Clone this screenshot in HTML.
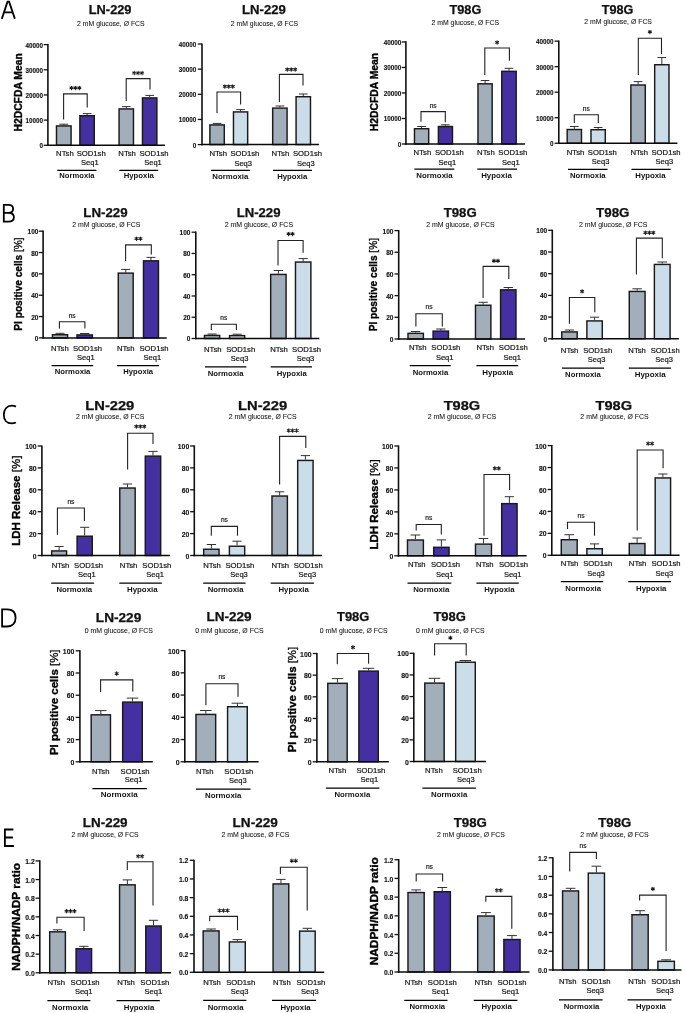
<!DOCTYPE html>
<html><head><meta charset="utf-8"><style>
html,body{margin:0;padding:0;background:#fff;width:685px;height:1013px;overflow:hidden}
svg{display:block;will-change:transform}
text{font-family:"Liberation Sans", sans-serif}
</style></head><body>
<svg width="685" height="1013" viewBox="0 0 685 1013" font-family='"Liberation Sans", sans-serif'><text x="110.15" y="13.8" font-size="12.2" font-weight="bold" text-anchor="middle" fill="#111" textLength="42.7" lengthAdjust="spacingAndGlyphs" stroke="#111" stroke-width="0.25">LN-229</text>
<text x="110.85" y="25.5" font-size="7.1" font-weight="normal" text-anchor="middle" fill="#111" textLength="67.6" lengthAdjust="spacingAndGlyphs" stroke="#111" stroke-width="0.06">2 mM glucose, Ø FCS</text>
<text transform="translate(21.9 92.4) rotate(-90)" x="0" y="0" font-size="10.8" font-weight="bold" text-anchor="middle" fill="#000" stroke="#000" stroke-width="0.35" textLength="78.3" lengthAdjust="spacingAndGlyphs">H2DCFDA Mean</text>
<line x1="43.7" y1="145.3" x2="47.9" y2="145.3" stroke="#111" stroke-width="1.3"/>
<text x="42.9" y="148.2" font-size="6.3" font-weight="bold" text-anchor="end" fill="#111" stroke="#111" stroke-width="0.12">0</text>
<line x1="43.7" y1="120.12" x2="47.9" y2="120.12" stroke="#111" stroke-width="1.3"/>
<text x="42.9" y="123.02" font-size="6.3" font-weight="bold" text-anchor="end" fill="#111" stroke="#111" stroke-width="0.12">10000</text>
<line x1="43.7" y1="94.95" x2="47.9" y2="94.95" stroke="#111" stroke-width="1.3"/>
<text x="42.9" y="97.85" font-size="6.3" font-weight="bold" text-anchor="end" fill="#111" stroke="#111" stroke-width="0.12">20000</text>
<line x1="43.7" y1="69.78" x2="47.9" y2="69.78" stroke="#111" stroke-width="1.3"/>
<text x="42.9" y="72.67" font-size="6.3" font-weight="bold" text-anchor="end" fill="#111" stroke="#111" stroke-width="0.12">30000</text>
<line x1="43.7" y1="44.6" x2="47.9" y2="44.6" stroke="#111" stroke-width="1.3"/>
<text x="42.9" y="47.5" font-size="6.3" font-weight="bold" text-anchor="end" fill="#111" stroke="#111" stroke-width="0.12">40000</text>
<line x1="63.78" y1="125.2" x2="63.78" y2="124.2" stroke="#333" stroke-width="1"/>
<line x1="59.36" y1="124.2" x2="68.19" y2="124.2" stroke="#333" stroke-width="1"/>
<rect x="56.48" y="125.92" width="14.6" height="19.38" fill="#a2afbb" stroke="#1a1a1a" stroke-width="1.45"/>
<line x1="87.08" y1="115" x2="87.08" y2="113.6" stroke="#333" stroke-width="1"/>
<line x1="82.72" y1="113.6" x2="91.43" y2="113.6" stroke="#333" stroke-width="1"/>
<rect x="79.88" y="115.72" width="14.4" height="29.58" fill="#4430a0" stroke="#1a1a1a" stroke-width="1.45"/>
<line x1="126.28" y1="108.2" x2="126.28" y2="106.6" stroke="#333" stroke-width="1"/>
<line x1="121.92" y1="106.6" x2="130.63" y2="106.6" stroke="#333" stroke-width="1"/>
<rect x="119.07" y="108.92" width="14.4" height="36.38" fill="#a2afbb" stroke="#1a1a1a" stroke-width="1.45"/>
<line x1="149.68" y1="97.2" x2="149.68" y2="95.4" stroke="#333" stroke-width="1"/>
<line x1="145.32" y1="95.4" x2="154.03" y2="95.4" stroke="#333" stroke-width="1"/>
<rect x="142.47" y="97.92" width="14.4" height="47.38" fill="#4430a0" stroke="#1a1a1a" stroke-width="1.45"/>
<line x1="47.9" y1="44" x2="47.9" y2="146" stroke="#111" stroke-width="1.6"/>
<line x1="47.15" y1="145.3" x2="165" y2="145.3" stroke="#0a0a0a" stroke-width="1.5"/>
<path d="M63.6 119.4V93.9H87.2V107.6" fill="none" stroke="#222" stroke-width="1.1"/>
<path d="M71.45 86.15L71.45 89.65M72.97 87.03L69.93 88.78M72.97 88.78L69.93 87.03" stroke="#1a1a1a" stroke-width="1.05" stroke-linecap="round"/>
<path d="M75.4 86.15L75.4 89.65M76.92 87.03L73.88 88.78M76.92 88.78L73.88 87.03" stroke="#1a1a1a" stroke-width="1.05" stroke-linecap="round"/>
<path d="M79.35 86.15L79.35 89.65M80.87 87.03L77.83 88.78M80.87 88.78L77.83 87.03" stroke="#1a1a1a" stroke-width="1.05" stroke-linecap="round"/>
<path d="M126.2 101V78.6H150V89.6" fill="none" stroke="#222" stroke-width="1.1"/>
<path d="M134.15 71.25L134.15 74.75M135.67 72.12L132.63 73.88M135.67 73.88L132.63 72.12" stroke="#1a1a1a" stroke-width="1.05" stroke-linecap="round"/>
<path d="M138.1 71.25L138.1 74.75M139.62 72.12L136.58 73.88M139.62 73.88L136.58 72.12" stroke="#1a1a1a" stroke-width="1.05" stroke-linecap="round"/>
<path d="M142.05 71.25L142.05 74.75M143.57 72.12L140.53 73.88M143.57 73.88L140.53 72.12" stroke="#1a1a1a" stroke-width="1.05" stroke-linecap="round"/>
<text x="56.1" y="155.9" font-size="7.3" font-weight="normal" text-anchor="start" fill="#111" textLength="17.6" lengthAdjust="spacingAndGlyphs" stroke="#111" stroke-width="0.18">NTsh</text>
<text x="76.7" y="155.9" font-size="7.3" font-weight="normal" text-anchor="start" fill="#111" textLength="29" lengthAdjust="spacingAndGlyphs" stroke="#111" stroke-width="0.18">SOD1sh</text>
<text x="81.1" y="165.3" font-size="7.3" font-weight="normal" text-anchor="start" fill="#111" textLength="17.6" lengthAdjust="spacingAndGlyphs" stroke="#111" stroke-width="0.18">Seq1</text>
<text x="118.3" y="155.9" font-size="7.3" font-weight="normal" text-anchor="start" fill="#111" textLength="17.6" lengthAdjust="spacingAndGlyphs" stroke="#111" stroke-width="0.18">NTsh</text>
<text x="139.5" y="155.9" font-size="7.3" font-weight="normal" text-anchor="start" fill="#111" textLength="29" lengthAdjust="spacingAndGlyphs" stroke="#111" stroke-width="0.18">SOD1sh</text>
<text x="144.2" y="165.3" font-size="7.3" font-weight="normal" text-anchor="start" fill="#111" textLength="17.6" lengthAdjust="spacingAndGlyphs" stroke="#111" stroke-width="0.18">Seq1</text>
<line x1="57.2" y1="170.4" x2="96.4" y2="170.4" stroke="#000" stroke-width="1.25"/>
<text x="76.9" y="178.3" font-size="7.2" font-weight="bold" text-anchor="middle" fill="#111" textLength="35.2" lengthAdjust="spacingAndGlyphs">Normoxia</text>
<line x1="119.4" y1="170.4" x2="158.2" y2="170.4" stroke="#000" stroke-width="1.25"/>
<text x="138.8" y="178.3" font-size="7.2" font-weight="bold" text-anchor="middle" fill="#111" textLength="30.2" lengthAdjust="spacingAndGlyphs">Hypoxia</text>
<text x="264" y="13.8" font-size="12.2" font-weight="bold" text-anchor="middle" fill="#111" textLength="43.8" lengthAdjust="spacingAndGlyphs" stroke="#111" stroke-width="0.25">LN-229</text>
<text x="264.5" y="25.5" font-size="7.1" font-weight="normal" text-anchor="middle" fill="#111" textLength="67.3" lengthAdjust="spacingAndGlyphs" stroke="#111" stroke-width="0.06">2 mM glucose, Ø FCS</text>
<line x1="197.8" y1="144.6" x2="202" y2="144.6" stroke="#111" stroke-width="1.3"/>
<text x="196.3" y="147.5" font-size="6.3" font-weight="bold" text-anchor="end" fill="#111" stroke="#111" stroke-width="0.12">0</text>
<line x1="197.8" y1="119.45" x2="202" y2="119.45" stroke="#111" stroke-width="1.3"/>
<text x="196.3" y="122.35" font-size="6.3" font-weight="bold" text-anchor="end" fill="#111" stroke="#111" stroke-width="0.12">10000</text>
<line x1="197.8" y1="94.3" x2="202" y2="94.3" stroke="#111" stroke-width="1.3"/>
<text x="196.3" y="97.2" font-size="6.3" font-weight="bold" text-anchor="end" fill="#111" stroke="#111" stroke-width="0.12">20000</text>
<line x1="197.8" y1="69.15" x2="202" y2="69.15" stroke="#111" stroke-width="1.3"/>
<text x="196.3" y="72.05" font-size="6.3" font-weight="bold" text-anchor="end" fill="#111" stroke="#111" stroke-width="0.12">30000</text>
<line x1="197.8" y1="44" x2="202" y2="44" stroke="#111" stroke-width="1.3"/>
<text x="196.3" y="46.9" font-size="6.3" font-weight="bold" text-anchor="end" fill="#111" stroke="#111" stroke-width="0.12">40000</text>
<line x1="217.07" y1="124.2" x2="217.07" y2="123.4" stroke="#333" stroke-width="1"/>
<line x1="212.72" y1="123.4" x2="221.43" y2="123.4" stroke="#333" stroke-width="1"/>
<rect x="209.88" y="124.92" width="14.4" height="19.67" fill="#a2afbb" stroke="#1a1a1a" stroke-width="1.45"/>
<line x1="240.57" y1="111.2" x2="240.57" y2="109.6" stroke="#333" stroke-width="1"/>
<line x1="236.27" y1="109.6" x2="244.88" y2="109.6" stroke="#333" stroke-width="1"/>
<rect x="233.47" y="111.92" width="14.2" height="32.67" fill="#cadde8" stroke="#1a1a1a" stroke-width="1.45"/>
<line x1="279.88" y1="107.4" x2="279.88" y2="106" stroke="#333" stroke-width="1"/>
<line x1="275.52" y1="106" x2="284.23" y2="106" stroke="#333" stroke-width="1"/>
<rect x="272.68" y="108.12" width="14.4" height="36.47" fill="#a2afbb" stroke="#1a1a1a" stroke-width="1.45"/>
<line x1="303.27" y1="96" x2="303.27" y2="94" stroke="#333" stroke-width="1"/>
<line x1="298.92" y1="94" x2="307.63" y2="94" stroke="#333" stroke-width="1"/>
<rect x="296.08" y="96.72" width="14.4" height="47.87" fill="#cadde8" stroke="#1a1a1a" stroke-width="1.45"/>
<line x1="202" y1="43.4" x2="202" y2="145.3" stroke="#111" stroke-width="1.6"/>
<line x1="201.25" y1="144.6" x2="319" y2="144.6" stroke="#0a0a0a" stroke-width="1.5"/>
<path d="M217 113V92H240.6V104.4" fill="none" stroke="#222" stroke-width="1.1"/>
<path d="M224.85 84.65L224.85 88.15M226.37 85.53L223.33 87.28M226.37 87.28L223.33 85.53" stroke="#1a1a1a" stroke-width="1.05" stroke-linecap="round"/>
<path d="M228.8 84.65L228.8 88.15M230.32 85.53L227.28 87.28M230.32 87.28L227.28 85.53" stroke="#1a1a1a" stroke-width="1.05" stroke-linecap="round"/>
<path d="M232.75 84.65L232.75 88.15M234.27 85.53L231.23 87.28M234.27 87.28L231.23 85.53" stroke="#1a1a1a" stroke-width="1.05" stroke-linecap="round"/>
<path d="M279.4 102V74.4H303V85.6" fill="none" stroke="#222" stroke-width="1.1"/>
<path d="M287.25 67.65L287.25 71.15M288.77 68.53L285.73 70.28M288.77 70.28L285.73 68.53" stroke="#1a1a1a" stroke-width="1.05" stroke-linecap="round"/>
<path d="M291.2 67.65L291.2 71.15M292.72 68.53L289.68 70.28M292.72 70.28L289.68 68.53" stroke="#1a1a1a" stroke-width="1.05" stroke-linecap="round"/>
<path d="M295.15 67.65L295.15 71.15M296.67 68.53L293.63 70.28M296.67 70.28L293.63 68.53" stroke="#1a1a1a" stroke-width="1.05" stroke-linecap="round"/>
<text x="209.4" y="156.2" font-size="7.3" font-weight="normal" text-anchor="start" fill="#111" textLength="17.6" lengthAdjust="spacingAndGlyphs" stroke="#111" stroke-width="0.18">NTsh</text>
<text x="230.4" y="156.2" font-size="7.3" font-weight="normal" text-anchor="start" fill="#111" textLength="29" lengthAdjust="spacingAndGlyphs" stroke="#111" stroke-width="0.18">SOD1sh</text>
<text x="234.4" y="165.6" font-size="7.3" font-weight="normal" text-anchor="start" fill="#111" textLength="17.6" lengthAdjust="spacingAndGlyphs" stroke="#111" stroke-width="0.18">Seq3</text>
<text x="271.6" y="156.2" font-size="7.3" font-weight="normal" text-anchor="start" fill="#111" textLength="17.6" lengthAdjust="spacingAndGlyphs" stroke="#111" stroke-width="0.18">NTsh</text>
<text x="293" y="156.2" font-size="7.3" font-weight="normal" text-anchor="start" fill="#111" textLength="29" lengthAdjust="spacingAndGlyphs" stroke="#111" stroke-width="0.18">SOD1sh</text>
<text x="297" y="165.6" font-size="7.3" font-weight="normal" text-anchor="start" fill="#111" textLength="17.6" lengthAdjust="spacingAndGlyphs" stroke="#111" stroke-width="0.18">Seq3</text>
<line x1="211" y1="170.4" x2="250" y2="170.4" stroke="#000" stroke-width="1.25"/>
<text x="230.3" y="178.6" font-size="7.2" font-weight="bold" text-anchor="middle" fill="#111" textLength="36" lengthAdjust="spacingAndGlyphs">Normoxia</text>
<line x1="273" y1="170.4" x2="312" y2="170.4" stroke="#000" stroke-width="1.25"/>
<text x="292.25" y="178.6" font-size="7.2" font-weight="bold" text-anchor="middle" fill="#111" textLength="30.1" lengthAdjust="spacingAndGlyphs">Hypoxia</text>
<text x="465.4" y="14" font-size="12.2" font-weight="bold" text-anchor="middle" fill="#111" textLength="31.8" lengthAdjust="spacingAndGlyphs" stroke="#111" stroke-width="0.25">T98G</text>
<text x="465.3" y="24.9" font-size="7.1" font-weight="normal" text-anchor="middle" fill="#111" textLength="67.7" lengthAdjust="spacingAndGlyphs" stroke="#111" stroke-width="0.06">2 mM glucose, Ø FCS</text>
<text transform="translate(378.2 92.1) rotate(-90)" x="0" y="0" font-size="10.8" font-weight="bold" text-anchor="middle" fill="#000" stroke="#000" stroke-width="0.35" textLength="78.3" lengthAdjust="spacingAndGlyphs">H2DCFDA Mean</text>
<line x1="401.7" y1="144" x2="405.9" y2="144" stroke="#111" stroke-width="1.3"/>
<text x="401.3" y="146.9" font-size="6.3" font-weight="bold" text-anchor="end" fill="#111" stroke="#111" stroke-width="0.12">0</text>
<line x1="401.7" y1="118.49" x2="405.9" y2="118.49" stroke="#111" stroke-width="1.3"/>
<text x="401.3" y="121.39" font-size="6.3" font-weight="bold" text-anchor="end" fill="#111" stroke="#111" stroke-width="0.12">10000</text>
<line x1="401.7" y1="92.97" x2="405.9" y2="92.97" stroke="#111" stroke-width="1.3"/>
<text x="401.3" y="95.87" font-size="6.3" font-weight="bold" text-anchor="end" fill="#111" stroke="#111" stroke-width="0.12">20000</text>
<line x1="401.7" y1="67.46" x2="405.9" y2="67.46" stroke="#111" stroke-width="1.3"/>
<text x="401.3" y="70.36" font-size="6.3" font-weight="bold" text-anchor="end" fill="#111" stroke="#111" stroke-width="0.12">30000</text>
<line x1="401.7" y1="41.95" x2="405.9" y2="41.95" stroke="#111" stroke-width="1.3"/>
<text x="401.3" y="44.85" font-size="6.3" font-weight="bold" text-anchor="end" fill="#111" stroke="#111" stroke-width="0.12">40000</text>
<line x1="421.57" y1="128" x2="421.57" y2="126.5" stroke="#333" stroke-width="1"/>
<line x1="417.27" y1="126.5" x2="425.88" y2="126.5" stroke="#333" stroke-width="1"/>
<rect x="414.48" y="128.72" width="14.2" height="15.28" fill="#a2afbb" stroke="#1a1a1a" stroke-width="1.45"/>
<line x1="445.42" y1="125.8" x2="445.42" y2="124.8" stroke="#333" stroke-width="1"/>
<line x1="441.15" y1="124.8" x2="449.7" y2="124.8" stroke="#333" stroke-width="1"/>
<rect x="438.38" y="126.52" width="14.1" height="17.48" fill="#4430a0" stroke="#1a1a1a" stroke-width="1.45"/>
<line x1="485.07" y1="83.1" x2="485.07" y2="80.5" stroke="#333" stroke-width="1"/>
<line x1="480.77" y1="80.5" x2="489.38" y2="80.5" stroke="#333" stroke-width="1"/>
<rect x="477.98" y="83.82" width="14.2" height="60.18" fill="#a2afbb" stroke="#1a1a1a" stroke-width="1.45"/>
<line x1="508.98" y1="70.6" x2="508.98" y2="68.3" stroke="#333" stroke-width="1"/>
<line x1="504.62" y1="68.3" x2="513.33" y2="68.3" stroke="#333" stroke-width="1"/>
<rect x="501.78" y="71.32" width="14.4" height="72.68" fill="#4430a0" stroke="#1a1a1a" stroke-width="1.45"/>
<line x1="405.9" y1="41.35" x2="405.9" y2="144.7" stroke="#111" stroke-width="1.6"/>
<line x1="405.15" y1="144" x2="525" y2="144" stroke="#0a0a0a" stroke-width="1.5"/>
<path d="M421 121.8V111.6H445.3V122.3" fill="none" stroke="#222" stroke-width="1.1"/>
<text x="433.15" y="107.6" font-size="6.6" font-weight="normal" text-anchor="middle" fill="#222" stroke="#111" stroke-width="0.18">ns</text>
<path d="M484.8 75V48H509.4V60.8" fill="none" stroke="#222" stroke-width="1.1"/>
<path d="M497.1 40.65L497.1 44.15M498.62 41.52L495.58 43.27M498.62 43.27L495.58 41.52" stroke="#1a1a1a" stroke-width="1.05" stroke-linecap="round"/>
<text x="413.6" y="154.9" font-size="7.3" font-weight="normal" text-anchor="start" fill="#111" textLength="17.6" lengthAdjust="spacingAndGlyphs" stroke="#111" stroke-width="0.18">NTsh</text>
<text x="434.9" y="154.9" font-size="7.3" font-weight="normal" text-anchor="start" fill="#111" textLength="29" lengthAdjust="spacingAndGlyphs" stroke="#111" stroke-width="0.18">SOD1sh</text>
<text x="438.6" y="164.9" font-size="7.3" font-weight="normal" text-anchor="start" fill="#111" textLength="17.6" lengthAdjust="spacingAndGlyphs" stroke="#111" stroke-width="0.18">Seq1</text>
<text x="477.1" y="154.9" font-size="7.3" font-weight="normal" text-anchor="start" fill="#111" textLength="17.6" lengthAdjust="spacingAndGlyphs" stroke="#111" stroke-width="0.18">NTsh</text>
<text x="498.3" y="154.9" font-size="7.3" font-weight="normal" text-anchor="start" fill="#111" textLength="29" lengthAdjust="spacingAndGlyphs" stroke="#111" stroke-width="0.18">SOD1sh</text>
<text x="502" y="164.9" font-size="7.3" font-weight="normal" text-anchor="start" fill="#111" textLength="17.6" lengthAdjust="spacingAndGlyphs" stroke="#111" stroke-width="0.18">Seq1</text>
<line x1="414.4" y1="169" x2="454.3" y2="169" stroke="#000" stroke-width="1.25"/>
<text x="434.45" y="178" font-size="7.2" font-weight="bold" text-anchor="middle" fill="#111" textLength="36.3" lengthAdjust="spacingAndGlyphs">Normoxia</text>
<line x1="477.3" y1="169" x2="517" y2="169" stroke="#000" stroke-width="1.25"/>
<text x="496.5" y="178" font-size="7.2" font-weight="bold" text-anchor="middle" fill="#111" textLength="30.6" lengthAdjust="spacingAndGlyphs">Hypoxia</text>
<text x="617.5" y="14" font-size="12.2" font-weight="bold" text-anchor="middle" fill="#111" textLength="31.6" lengthAdjust="spacingAndGlyphs" stroke="#111" stroke-width="0.25">T98G</text>
<text x="618.15" y="24.3" font-size="7.1" font-weight="normal" text-anchor="middle" fill="#111" textLength="67.6" lengthAdjust="spacingAndGlyphs" stroke="#111" stroke-width="0.06">2 mM glucose, Ø FCS</text>
<line x1="554.6" y1="143.25" x2="558.8" y2="143.25" stroke="#111" stroke-width="1.3"/>
<text x="553.4" y="146.15" font-size="6.3" font-weight="bold" text-anchor="end" fill="#111" stroke="#111" stroke-width="0.12">0</text>
<line x1="554.6" y1="117.72" x2="558.8" y2="117.72" stroke="#111" stroke-width="1.3"/>
<text x="553.4" y="120.62" font-size="6.3" font-weight="bold" text-anchor="end" fill="#111" stroke="#111" stroke-width="0.12">10000</text>
<line x1="554.6" y1="92.2" x2="558.8" y2="92.2" stroke="#111" stroke-width="1.3"/>
<text x="553.4" y="95.1" font-size="6.3" font-weight="bold" text-anchor="end" fill="#111" stroke="#111" stroke-width="0.12">20000</text>
<line x1="554.6" y1="66.68" x2="558.8" y2="66.68" stroke="#111" stroke-width="1.3"/>
<text x="553.4" y="69.57" font-size="6.3" font-weight="bold" text-anchor="end" fill="#111" stroke="#111" stroke-width="0.12">30000</text>
<line x1="554.6" y1="41.15" x2="558.8" y2="41.15" stroke="#111" stroke-width="1.3"/>
<text x="553.4" y="44.05" font-size="6.3" font-weight="bold" text-anchor="end" fill="#111" stroke="#111" stroke-width="0.12">40000</text>
<line x1="574.33" y1="128.8" x2="574.33" y2="126.5" stroke="#333" stroke-width="1"/>
<line x1="569.99" y1="126.5" x2="578.66" y2="126.5" stroke="#333" stroke-width="1"/>
<rect x="567.18" y="129.53" width="14.3" height="13.72" fill="#a2afbb" stroke="#1a1a1a" stroke-width="1.45"/>
<line x1="598.12" y1="129" x2="598.12" y2="127.5" stroke="#333" stroke-width="1"/>
<line x1="593.79" y1="127.5" x2="602.46" y2="127.5" stroke="#333" stroke-width="1"/>
<rect x="590.98" y="129.72" width="14.3" height="13.53" fill="#cadde8" stroke="#1a1a1a" stroke-width="1.45"/>
<line x1="638.08" y1="84.3" x2="638.08" y2="81.6" stroke="#333" stroke-width="1"/>
<line x1="633.72" y1="81.6" x2="642.43" y2="81.6" stroke="#333" stroke-width="1"/>
<rect x="630.88" y="85.02" width="14.4" height="58.23" fill="#a2afbb" stroke="#1a1a1a" stroke-width="1.45"/>
<line x1="661.83" y1="64" x2="661.83" y2="57.5" stroke="#333" stroke-width="1"/>
<line x1="657.49" y1="57.5" x2="666.16" y2="57.5" stroke="#333" stroke-width="1"/>
<rect x="654.68" y="64.72" width="14.3" height="78.53" fill="#cadde8" stroke="#1a1a1a" stroke-width="1.45"/>
<line x1="558.8" y1="40.55" x2="558.8" y2="143.95" stroke="#111" stroke-width="1.6"/>
<line x1="558.05" y1="143.25" x2="677.4" y2="143.25" stroke="#0a0a0a" stroke-width="1.5"/>
<path d="M574.3 122.9V114.8H598.3V122.9" fill="none" stroke="#222" stroke-width="1.1"/>
<text x="586.3" y="110.7" font-size="6.6" font-weight="normal" text-anchor="middle" fill="#222" stroke="#111" stroke-width="0.18">ns</text>
<path d="M638.3 75V38.3H661.5V54" fill="none" stroke="#222" stroke-width="1.1"/>
<path d="M649.9 30.15L649.9 33.65M651.42 31.02L648.38 32.77M651.42 32.77L648.38 31.02" stroke="#1a1a1a" stroke-width="1.05" stroke-linecap="round"/>
<text x="566.7" y="155.2" font-size="7.3" font-weight="normal" text-anchor="start" fill="#111" textLength="17.6" lengthAdjust="spacingAndGlyphs" stroke="#111" stroke-width="0.18">NTsh</text>
<text x="587.8" y="155.2" font-size="7.3" font-weight="normal" text-anchor="start" fill="#111" textLength="29" lengthAdjust="spacingAndGlyphs" stroke="#111" stroke-width="0.18">SOD1sh</text>
<text x="591.8" y="164.1" font-size="7.3" font-weight="normal" text-anchor="start" fill="#111" textLength="17.6" lengthAdjust="spacingAndGlyphs" stroke="#111" stroke-width="0.18">Seq3</text>
<text x="630.4" y="155.2" font-size="7.3" font-weight="normal" text-anchor="start" fill="#111" textLength="17.6" lengthAdjust="spacingAndGlyphs" stroke="#111" stroke-width="0.18">NTsh</text>
<text x="651.5" y="155.2" font-size="7.3" font-weight="normal" text-anchor="start" fill="#111" textLength="29" lengthAdjust="spacingAndGlyphs" stroke="#111" stroke-width="0.18">SOD1sh</text>
<text x="655.5" y="164.1" font-size="7.3" font-weight="normal" text-anchor="start" fill="#111" textLength="17.6" lengthAdjust="spacingAndGlyphs" stroke="#111" stroke-width="0.18">Seq3</text>
<line x1="568" y1="169.3" x2="607.5" y2="169.3" stroke="#000" stroke-width="1.25"/>
<text x="587.75" y="177.5" font-size="7.2" font-weight="bold" text-anchor="middle" fill="#111" textLength="35.7" lengthAdjust="spacingAndGlyphs">Normoxia</text>
<line x1="631.5" y1="169.3" x2="670.7" y2="169.3" stroke="#000" stroke-width="1.25"/>
<text x="650.45" y="177.5" font-size="7.2" font-weight="bold" text-anchor="middle" fill="#111" textLength="30.3" lengthAdjust="spacingAndGlyphs">Hypoxia</text>
<text x="105.45" y="216.7" font-size="12.2" font-weight="bold" text-anchor="middle" fill="#111" textLength="44.3" lengthAdjust="spacingAndGlyphs" stroke="#111" stroke-width="0.25">LN-229</text>
<text x="106.35" y="227.2" font-size="7.1" font-weight="normal" text-anchor="middle" fill="#111" textLength="68.2" lengthAdjust="spacingAndGlyphs" stroke="#111" stroke-width="0.06">2 mM glucose, Ø FCS</text>
<text transform="translate(22.1 284) rotate(-90)" x="0" y="0" font-size="10.8" font-weight="bold" text-anchor="middle" fill="#000" stroke="#000" stroke-width="0.35" textLength="93.3" lengthAdjust="spacingAndGlyphs">PI positive cells<tspan font-weight="normal" stroke-width="0.3"> [%]</tspan></text>
<line x1="38.9" y1="337.9" x2="43.1" y2="337.9" stroke="#111" stroke-width="1.3"/>
<text x="38.4" y="340.89" font-size="6.5" font-weight="bold" text-anchor="end" fill="#111" stroke="#111" stroke-width="0.12">0</text>
<line x1="38.9" y1="316.56" x2="43.1" y2="316.56" stroke="#111" stroke-width="1.3"/>
<text x="38.4" y="319.55" font-size="6.5" font-weight="bold" text-anchor="end" fill="#111" stroke="#111" stroke-width="0.12">20</text>
<line x1="38.9" y1="295.22" x2="43.1" y2="295.22" stroke="#111" stroke-width="1.3"/>
<text x="38.4" y="298.21" font-size="6.5" font-weight="bold" text-anchor="end" fill="#111" stroke="#111" stroke-width="0.12">40</text>
<line x1="38.9" y1="273.88" x2="43.1" y2="273.88" stroke="#111" stroke-width="1.3"/>
<text x="38.4" y="276.87" font-size="6.5" font-weight="bold" text-anchor="end" fill="#111" stroke="#111" stroke-width="0.12">60</text>
<line x1="38.9" y1="252.54" x2="43.1" y2="252.54" stroke="#111" stroke-width="1.3"/>
<text x="38.4" y="255.53" font-size="6.5" font-weight="bold" text-anchor="end" fill="#111" stroke="#111" stroke-width="0.12">80</text>
<line x1="38.9" y1="231.2" x2="43.1" y2="231.2" stroke="#111" stroke-width="1.3"/>
<text x="38.4" y="234.19" font-size="6.5" font-weight="bold" text-anchor="end" fill="#111" stroke="#111" stroke-width="0.12">100</text>
<line x1="60.03" y1="334" x2="60.03" y2="333.3" stroke="#333" stroke-width="1"/>
<line x1="55.47" y1="333.3" x2="64.58" y2="333.3" stroke="#333" stroke-width="1"/>
<rect x="52.48" y="334.73" width="15.1" height="3.17" fill="#a2afbb" stroke="#1a1a1a" stroke-width="1.45"/>
<line x1="84.68" y1="334.2" x2="84.68" y2="333.5" stroke="#333" stroke-width="1"/>
<line x1="80.04" y1="333.5" x2="89.31" y2="333.5" stroke="#333" stroke-width="1"/>
<rect x="76.97" y="334.93" width="15.4" height="2.97" fill="#4430a0" stroke="#1a1a1a" stroke-width="1.45"/>
<line x1="125.72" y1="272.4" x2="125.72" y2="269.4" stroke="#333" stroke-width="1"/>
<line x1="121.23" y1="269.4" x2="130.22" y2="269.4" stroke="#333" stroke-width="1"/>
<rect x="118.27" y="273.12" width="14.9" height="64.78" fill="#a2afbb" stroke="#1a1a1a" stroke-width="1.45"/>
<line x1="150.98" y1="260.1" x2="150.98" y2="257.4" stroke="#333" stroke-width="1"/>
<line x1="146.45" y1="257.4" x2="155.5" y2="257.4" stroke="#333" stroke-width="1"/>
<rect x="143.47" y="260.83" width="15" height="77.07" fill="#4430a0" stroke="#1a1a1a" stroke-width="1.45"/>
<line x1="43.1" y1="230.6" x2="43.1" y2="338.6" stroke="#111" stroke-width="1.6"/>
<line x1="42.35" y1="337.9" x2="166.7" y2="337.9" stroke="#0a0a0a" stroke-width="1.5"/>
<path d="M59.4 328.5V321.8H84.9V328.5" fill="none" stroke="#222" stroke-width="1.1"/>
<text x="72.15" y="317.9" font-size="6.6" font-weight="normal" text-anchor="middle" fill="#222" stroke="#111" stroke-width="0.18">ns</text>
<path d="M125.6 261V244.9H151.3V254.4" fill="none" stroke="#222" stroke-width="1.1"/>
<path d="M136.47 236.95L136.47 240.45M137.99 237.82L134.96 239.57M137.99 239.57L134.96 237.82" stroke="#1a1a1a" stroke-width="1.05" stroke-linecap="round"/>
<path d="M140.42 236.95L140.42 240.45M141.94 237.82L138.91 239.57M141.94 239.57L138.91 237.82" stroke="#1a1a1a" stroke-width="1.05" stroke-linecap="round"/>
<text x="51.1" y="350.6" font-size="7.3" font-weight="normal" text-anchor="start" fill="#111" textLength="17.6" lengthAdjust="spacingAndGlyphs" stroke="#111" stroke-width="0.18">NTsh</text>
<text x="73" y="350.6" font-size="7.3" font-weight="normal" text-anchor="start" fill="#111" textLength="29" lengthAdjust="spacingAndGlyphs" stroke="#111" stroke-width="0.18">SOD1sh</text>
<text x="77" y="359.8" font-size="7.3" font-weight="normal" text-anchor="start" fill="#111" textLength="17.6" lengthAdjust="spacingAndGlyphs" stroke="#111" stroke-width="0.18">Seq1</text>
<text x="116.9" y="350.6" font-size="7.3" font-weight="normal" text-anchor="start" fill="#111" textLength="17.6" lengthAdjust="spacingAndGlyphs" stroke="#111" stroke-width="0.18">NTsh</text>
<text x="139.5" y="350.6" font-size="7.3" font-weight="normal" text-anchor="start" fill="#111" textLength="29" lengthAdjust="spacingAndGlyphs" stroke="#111" stroke-width="0.18">SOD1sh</text>
<text x="143.5" y="359.8" font-size="7.3" font-weight="normal" text-anchor="start" fill="#111" textLength="17.6" lengthAdjust="spacingAndGlyphs" stroke="#111" stroke-width="0.18">Seq1</text>
<line x1="51.6" y1="365.5" x2="93.2" y2="365.5" stroke="#000" stroke-width="1.25"/>
<text x="72.6" y="373.8" font-size="7.2" font-weight="bold" text-anchor="middle" fill="#111" textLength="35.6" lengthAdjust="spacingAndGlyphs">Normoxia</text>
<line x1="117" y1="365.5" x2="159" y2="365.5" stroke="#000" stroke-width="1.25"/>
<text x="138.2" y="373.8" font-size="7.2" font-weight="bold" text-anchor="middle" fill="#111" textLength="29.8" lengthAdjust="spacingAndGlyphs">Hypoxia</text>
<text x="258.6" y="216.7" font-size="12.2" font-weight="bold" text-anchor="middle" fill="#111" textLength="43.8" lengthAdjust="spacingAndGlyphs" stroke="#111" stroke-width="0.25">LN-229</text>
<text x="258.85" y="227.2" font-size="7.1" font-weight="normal" text-anchor="middle" fill="#111" textLength="68.4" lengthAdjust="spacingAndGlyphs" stroke="#111" stroke-width="0.06">2 mM glucose, Ø FCS</text>
<line x1="191.6" y1="338.5" x2="195.8" y2="338.5" stroke="#111" stroke-width="1.3"/>
<text x="190.4" y="341.49" font-size="6.5" font-weight="bold" text-anchor="end" fill="#111" stroke="#111" stroke-width="0.12">0</text>
<line x1="191.6" y1="317.24" x2="195.8" y2="317.24" stroke="#111" stroke-width="1.3"/>
<text x="190.4" y="320.23" font-size="6.5" font-weight="bold" text-anchor="end" fill="#111" stroke="#111" stroke-width="0.12">20</text>
<line x1="191.6" y1="295.98" x2="195.8" y2="295.98" stroke="#111" stroke-width="1.3"/>
<text x="190.4" y="298.97" font-size="6.5" font-weight="bold" text-anchor="end" fill="#111" stroke="#111" stroke-width="0.12">40</text>
<line x1="191.6" y1="274.72" x2="195.8" y2="274.72" stroke="#111" stroke-width="1.3"/>
<text x="190.4" y="277.71" font-size="6.5" font-weight="bold" text-anchor="end" fill="#111" stroke="#111" stroke-width="0.12">60</text>
<line x1="191.6" y1="253.46" x2="195.8" y2="253.46" stroke="#111" stroke-width="1.3"/>
<text x="190.4" y="256.45" font-size="6.5" font-weight="bold" text-anchor="end" fill="#111" stroke="#111" stroke-width="0.12">80</text>
<line x1="191.6" y1="232.2" x2="195.8" y2="232.2" stroke="#111" stroke-width="1.3"/>
<text x="190.4" y="235.19" font-size="6.5" font-weight="bold" text-anchor="end" fill="#111" stroke="#111" stroke-width="0.12">100</text>
<line x1="212.07" y1="334.7" x2="212.07" y2="334" stroke="#333" stroke-width="1"/>
<line x1="207.5" y1="334" x2="216.65" y2="334" stroke="#333" stroke-width="1"/>
<rect x="204.47" y="335.43" width="15.2" height="3.08" fill="#a2afbb" stroke="#1a1a1a" stroke-width="1.45"/>
<line x1="237.12" y1="334.9" x2="237.12" y2="334.2" stroke="#333" stroke-width="1"/>
<line x1="232.57" y1="334.2" x2="241.68" y2="334.2" stroke="#333" stroke-width="1"/>
<rect x="229.57" y="335.62" width="15.1" height="2.88" fill="#cadde8" stroke="#1a1a1a" stroke-width="1.45"/>
<line x1="278.38" y1="273.7" x2="278.38" y2="270.5" stroke="#333" stroke-width="1"/>
<line x1="273.74" y1="270.5" x2="283.01" y2="270.5" stroke="#333" stroke-width="1"/>
<rect x="270.68" y="274.43" width="15.4" height="64.08" fill="#a2afbb" stroke="#1a1a1a" stroke-width="1.45"/>
<line x1="303.17" y1="261.3" x2="303.17" y2="258.6" stroke="#333" stroke-width="1"/>
<line x1="298.54" y1="258.6" x2="307.81" y2="258.6" stroke="#333" stroke-width="1"/>
<rect x="295.48" y="262.03" width="15.4" height="76.47" fill="#cadde8" stroke="#1a1a1a" stroke-width="1.45"/>
<line x1="195.8" y1="231.6" x2="195.8" y2="339.2" stroke="#111" stroke-width="1.6"/>
<line x1="195.05" y1="338.5" x2="319.3" y2="338.5" stroke="#0a0a0a" stroke-width="1.5"/>
<path d="M211.3 329.9V324.2H236.4V329.9" fill="none" stroke="#222" stroke-width="1.1"/>
<text x="223.85" y="319.6" font-size="6.6" font-weight="normal" text-anchor="middle" fill="#222" stroke="#111" stroke-width="0.18">ns</text>
<path d="M278 265.5V240.5H303.1V252.7" fill="none" stroke="#222" stroke-width="1.1"/>
<path d="M288.57 232.15L288.57 235.65M290.09 233.03L287.06 234.78M290.09 234.78L287.06 233.03" stroke="#1a1a1a" stroke-width="1.05" stroke-linecap="round"/>
<path d="M292.53 232.15L292.53 235.65M294.04 233.03L291.01 234.78M294.04 234.78L291.01 233.03" stroke="#1a1a1a" stroke-width="1.05" stroke-linecap="round"/>
<text x="204" y="351.9" font-size="7.3" font-weight="normal" text-anchor="start" fill="#111" textLength="17.6" lengthAdjust="spacingAndGlyphs" stroke="#111" stroke-width="0.18">NTsh</text>
<text x="226.2" y="351.9" font-size="7.3" font-weight="normal" text-anchor="start" fill="#111" textLength="29" lengthAdjust="spacingAndGlyphs" stroke="#111" stroke-width="0.18">SOD1sh</text>
<text x="230.8" y="361.4" font-size="7.3" font-weight="normal" text-anchor="start" fill="#111" textLength="17.6" lengthAdjust="spacingAndGlyphs" stroke="#111" stroke-width="0.18">Seq3</text>
<text x="270.2" y="351.9" font-size="7.3" font-weight="normal" text-anchor="start" fill="#111" textLength="17.6" lengthAdjust="spacingAndGlyphs" stroke="#111" stroke-width="0.18">NTsh</text>
<text x="292.1" y="351.9" font-size="7.3" font-weight="normal" text-anchor="start" fill="#111" textLength="29" lengthAdjust="spacingAndGlyphs" stroke="#111" stroke-width="0.18">SOD1sh</text>
<text x="296.7" y="361.4" font-size="7.3" font-weight="normal" text-anchor="start" fill="#111" textLength="17.6" lengthAdjust="spacingAndGlyphs" stroke="#111" stroke-width="0.18">Seq3</text>
<line x1="205" y1="366.9" x2="246.4" y2="366.9" stroke="#000" stroke-width="1.25"/>
<text x="225.6" y="375.6" font-size="7.2" font-weight="bold" text-anchor="middle" fill="#111" textLength="35.8" lengthAdjust="spacingAndGlyphs">Normoxia</text>
<line x1="270.7" y1="366.9" x2="312" y2="366.9" stroke="#000" stroke-width="1.25"/>
<text x="291.7" y="375.6" font-size="7.2" font-weight="bold" text-anchor="middle" fill="#111" textLength="30" lengthAdjust="spacingAndGlyphs">Hypoxia</text>
<text x="460.2" y="216.7" font-size="12.2" font-weight="bold" text-anchor="middle" fill="#111" textLength="33" lengthAdjust="spacingAndGlyphs" stroke="#111" stroke-width="0.25">T98G</text>
<text x="460.45" y="227.2" font-size="7.1" font-weight="normal" text-anchor="middle" fill="#111" textLength="68.4" lengthAdjust="spacingAndGlyphs" stroke="#111" stroke-width="0.06">2 mM glucose, Ø FCS</text>
<text transform="translate(377.1 284.7) rotate(-90)" x="0" y="0" font-size="10.8" font-weight="bold" text-anchor="middle" fill="#000" stroke="#000" stroke-width="0.35" textLength="93.3" lengthAdjust="spacingAndGlyphs">PI positive cells<tspan font-weight="normal" stroke-width="0.3"> [%]</tspan></text>
<line x1="394.5" y1="339" x2="398.7" y2="339" stroke="#111" stroke-width="1.3"/>
<text x="393.4" y="341.99" font-size="6.5" font-weight="bold" text-anchor="end" fill="#111" stroke="#111" stroke-width="0.12">0</text>
<line x1="394.5" y1="317.32" x2="398.7" y2="317.32" stroke="#111" stroke-width="1.3"/>
<text x="393.4" y="320.31" font-size="6.5" font-weight="bold" text-anchor="end" fill="#111" stroke="#111" stroke-width="0.12">20</text>
<line x1="394.5" y1="295.64" x2="398.7" y2="295.64" stroke="#111" stroke-width="1.3"/>
<text x="393.4" y="298.63" font-size="6.5" font-weight="bold" text-anchor="end" fill="#111" stroke="#111" stroke-width="0.12">40</text>
<line x1="394.5" y1="273.96" x2="398.7" y2="273.96" stroke="#111" stroke-width="1.3"/>
<text x="393.4" y="276.95" font-size="6.5" font-weight="bold" text-anchor="end" fill="#111" stroke="#111" stroke-width="0.12">60</text>
<line x1="394.5" y1="252.28" x2="398.7" y2="252.28" stroke="#111" stroke-width="1.3"/>
<text x="393.4" y="255.27" font-size="6.5" font-weight="bold" text-anchor="end" fill="#111" stroke="#111" stroke-width="0.12">80</text>
<line x1="394.5" y1="230.6" x2="398.7" y2="230.6" stroke="#111" stroke-width="1.3"/>
<text x="393.4" y="233.59" font-size="6.5" font-weight="bold" text-anchor="end" fill="#111" stroke="#111" stroke-width="0.12">100</text>
<line x1="415.67" y1="332.6" x2="415.67" y2="331.5" stroke="#333" stroke-width="1"/>
<line x1="411.04" y1="331.5" x2="420.31" y2="331.5" stroke="#333" stroke-width="1"/>
<rect x="407.98" y="333.33" width="15.4" height="5.67" fill="#a2afbb" stroke="#1a1a1a" stroke-width="1.45"/>
<line x1="440.77" y1="330.4" x2="440.77" y2="329" stroke="#333" stroke-width="1"/>
<line x1="436.14" y1="329" x2="445.41" y2="329" stroke="#333" stroke-width="1"/>
<rect x="433.08" y="331.12" width="15.4" height="7.88" fill="#4430a0" stroke="#1a1a1a" stroke-width="1.45"/>
<line x1="483.17" y1="304.5" x2="483.17" y2="302.3" stroke="#333" stroke-width="1"/>
<line x1="478.54" y1="302.3" x2="487.81" y2="302.3" stroke="#333" stroke-width="1"/>
<rect x="475.48" y="305.23" width="15.4" height="33.77" fill="#a2afbb" stroke="#1a1a1a" stroke-width="1.45"/>
<line x1="508.27" y1="289.1" x2="508.27" y2="287.5" stroke="#333" stroke-width="1"/>
<line x1="503.64" y1="287.5" x2="512.91" y2="287.5" stroke="#333" stroke-width="1"/>
<rect x="500.58" y="289.83" width="15.4" height="49.17" fill="#4430a0" stroke="#1a1a1a" stroke-width="1.45"/>
<line x1="398.7" y1="230" x2="398.7" y2="339.7" stroke="#111" stroke-width="1.6"/>
<line x1="397.95" y1="339" x2="525.1" y2="339" stroke="#0a0a0a" stroke-width="1.5"/>
<path d="M415.9 326.4V313.7H442.3V326.4" fill="none" stroke="#222" stroke-width="1.1"/>
<text x="429.1" y="309.1" font-size="6.6" font-weight="normal" text-anchor="middle" fill="#222" stroke="#111" stroke-width="0.18">ns</text>
<path d="M483.1 298V266.4H508.8V279.1" fill="none" stroke="#222" stroke-width="1.1"/>
<path d="M493.98 259.05L493.98 262.55M495.49 259.93L492.46 261.68M495.49 261.68L492.46 259.93" stroke="#1a1a1a" stroke-width="1.05" stroke-linecap="round"/>
<path d="M497.93 259.05L497.93 262.55M499.44 259.93L496.41 261.68M499.44 261.68L496.41 259.93" stroke="#1a1a1a" stroke-width="1.05" stroke-linecap="round"/>
<text x="408.9" y="350.3" font-size="7.3" font-weight="normal" text-anchor="start" fill="#111" textLength="17.6" lengthAdjust="spacingAndGlyphs" stroke="#111" stroke-width="0.18">NTsh</text>
<text x="431.3" y="350.3" font-size="7.3" font-weight="normal" text-anchor="start" fill="#111" textLength="29" lengthAdjust="spacingAndGlyphs" stroke="#111" stroke-width="0.18">SOD1sh</text>
<text x="435.9" y="360" font-size="7.3" font-weight="normal" text-anchor="start" fill="#111" textLength="17.6" lengthAdjust="spacingAndGlyphs" stroke="#111" stroke-width="0.18">Seq1</text>
<text x="476.4" y="350.3" font-size="7.3" font-weight="normal" text-anchor="start" fill="#111" textLength="17.6" lengthAdjust="spacingAndGlyphs" stroke="#111" stroke-width="0.18">NTsh</text>
<text x="498.8" y="350.3" font-size="7.3" font-weight="normal" text-anchor="start" fill="#111" textLength="29" lengthAdjust="spacingAndGlyphs" stroke="#111" stroke-width="0.18">SOD1sh</text>
<text x="503.4" y="360" font-size="7.3" font-weight="normal" text-anchor="start" fill="#111" textLength="17.6" lengthAdjust="spacingAndGlyphs" stroke="#111" stroke-width="0.18">Seq1</text>
<line x1="409.7" y1="365.5" x2="450.7" y2="365.5" stroke="#000" stroke-width="1.25"/>
<text x="430.5" y="374.9" font-size="7.2" font-weight="bold" text-anchor="middle" fill="#111" textLength="35.6" lengthAdjust="spacingAndGlyphs">Normoxia</text>
<line x1="476.4" y1="365.5" x2="518.2" y2="365.5" stroke="#000" stroke-width="1.25"/>
<text x="497.7" y="374.9" font-size="7.2" font-weight="bold" text-anchor="middle" fill="#111" textLength="30.8" lengthAdjust="spacingAndGlyphs">Hypoxia</text>
<text x="612.75" y="216.7" font-size="12.2" font-weight="bold" text-anchor="middle" fill="#111" textLength="33.3" lengthAdjust="spacingAndGlyphs" stroke="#111" stroke-width="0.25">T98G</text>
<text x="613.15" y="227.2" font-size="7.1" font-weight="normal" text-anchor="middle" fill="#111" textLength="68.4" lengthAdjust="spacingAndGlyphs" stroke="#111" stroke-width="0.06">2 mM glucose, Ø FCS</text>
<line x1="548.1" y1="338.8" x2="552.3" y2="338.8" stroke="#111" stroke-width="1.3"/>
<text x="547.2" y="341.79" font-size="6.5" font-weight="bold" text-anchor="end" fill="#111" stroke="#111" stroke-width="0.12">0</text>
<line x1="548.1" y1="317.1" x2="552.3" y2="317.1" stroke="#111" stroke-width="1.3"/>
<text x="547.2" y="320.09" font-size="6.5" font-weight="bold" text-anchor="end" fill="#111" stroke="#111" stroke-width="0.12">20</text>
<line x1="548.1" y1="295.4" x2="552.3" y2="295.4" stroke="#111" stroke-width="1.3"/>
<text x="547.2" y="298.39" font-size="6.5" font-weight="bold" text-anchor="end" fill="#111" stroke="#111" stroke-width="0.12">40</text>
<line x1="548.1" y1="273.7" x2="552.3" y2="273.7" stroke="#111" stroke-width="1.3"/>
<text x="547.2" y="276.69" font-size="6.5" font-weight="bold" text-anchor="end" fill="#111" stroke="#111" stroke-width="0.12">60</text>
<line x1="548.1" y1="252" x2="552.3" y2="252" stroke="#111" stroke-width="1.3"/>
<text x="547.2" y="254.99" font-size="6.5" font-weight="bold" text-anchor="end" fill="#111" stroke="#111" stroke-width="0.12">80</text>
<line x1="548.1" y1="230.3" x2="552.3" y2="230.3" stroke="#111" stroke-width="1.3"/>
<text x="547.2" y="233.29" font-size="6.5" font-weight="bold" text-anchor="end" fill="#111" stroke="#111" stroke-width="0.12">100</text>
<line x1="569.47" y1="331.2" x2="569.47" y2="330" stroke="#333" stroke-width="1"/>
<line x1="564.84" y1="330" x2="574.11" y2="330" stroke="#333" stroke-width="1"/>
<rect x="561.77" y="331.93" width="15.4" height="6.88" fill="#a2afbb" stroke="#1a1a1a" stroke-width="1.45"/>
<line x1="594.58" y1="320.2" x2="594.58" y2="317.2" stroke="#333" stroke-width="1"/>
<line x1="589.94" y1="317.2" x2="599.21" y2="317.2" stroke="#333" stroke-width="1"/>
<rect x="586.88" y="320.93" width="15.4" height="17.88" fill="#cadde8" stroke="#1a1a1a" stroke-width="1.45"/>
<line x1="637.17" y1="290.7" x2="637.17" y2="288.8" stroke="#333" stroke-width="1"/>
<line x1="632.43" y1="288.8" x2="641.92" y2="288.8" stroke="#333" stroke-width="1"/>
<rect x="629.27" y="291.43" width="15.8" height="47.38" fill="#a2afbb" stroke="#1a1a1a" stroke-width="1.45"/>
<line x1="662.22" y1="263.7" x2="662.22" y2="262" stroke="#333" stroke-width="1"/>
<line x1="657.51" y1="262" x2="666.94" y2="262" stroke="#333" stroke-width="1"/>
<rect x="654.38" y="264.43" width="15.7" height="74.38" fill="#cadde8" stroke="#1a1a1a" stroke-width="1.45"/>
<line x1="552.3" y1="229.7" x2="552.3" y2="339.5" stroke="#111" stroke-width="1.6"/>
<line x1="551.55" y1="338.8" x2="678.8" y2="338.8" stroke="#0a0a0a" stroke-width="1.5"/>
<path d="M569.4 323.7V297.5H594.8V312.3" fill="none" stroke="#222" stroke-width="1.1"/>
<path d="M582.1 289.55L582.1 293.05M583.62 290.43L580.58 292.18M583.62 292.18L580.58 290.43" stroke="#1a1a1a" stroke-width="1.05" stroke-linecap="round"/>
<path d="M636.4 274.6V238.1H662.3V258.3" fill="none" stroke="#222" stroke-width="1.1"/>
<path d="M645.4 230.95L645.4 234.45M646.92 231.82L643.88 233.57M646.92 233.57L643.88 231.82" stroke="#1a1a1a" stroke-width="1.05" stroke-linecap="round"/>
<path d="M649.35 230.95L649.35 234.45M650.87 231.82L647.83 233.57M650.87 233.57L647.83 231.82" stroke="#1a1a1a" stroke-width="1.05" stroke-linecap="round"/>
<path d="M653.3 230.95L653.3 234.45M654.82 231.82L651.78 233.57M654.82 233.57L651.78 231.82" stroke="#1a1a1a" stroke-width="1.05" stroke-linecap="round"/>
<text x="560.8" y="352.7" font-size="7.3" font-weight="normal" text-anchor="start" fill="#111" textLength="17.6" lengthAdjust="spacingAndGlyphs" stroke="#111" stroke-width="0.18">NTsh</text>
<text x="583.2" y="352.7" font-size="7.3" font-weight="normal" text-anchor="start" fill="#111" textLength="29" lengthAdjust="spacingAndGlyphs" stroke="#111" stroke-width="0.18">SOD1sh</text>
<text x="587.8" y="362.2" font-size="7.3" font-weight="normal" text-anchor="start" fill="#111" textLength="17.6" lengthAdjust="spacingAndGlyphs" stroke="#111" stroke-width="0.18">Seq3</text>
<text x="628.3" y="352.7" font-size="7.3" font-weight="normal" text-anchor="start" fill="#111" textLength="17.6" lengthAdjust="spacingAndGlyphs" stroke="#111" stroke-width="0.18">NTsh</text>
<text x="650.7" y="352.7" font-size="7.3" font-weight="normal" text-anchor="start" fill="#111" textLength="29" lengthAdjust="spacingAndGlyphs" stroke="#111" stroke-width="0.18">SOD1sh</text>
<text x="655.3" y="362.2" font-size="7.3" font-weight="normal" text-anchor="start" fill="#111" textLength="17.6" lengthAdjust="spacingAndGlyphs" stroke="#111" stroke-width="0.18">Seq3</text>
<line x1="562" y1="368.2" x2="604" y2="368.2" stroke="#000" stroke-width="1.25"/>
<text x="582.95" y="377" font-size="7.2" font-weight="bold" text-anchor="middle" fill="#111" textLength="35.7" lengthAdjust="spacingAndGlyphs">Normoxia</text>
<line x1="628.8" y1="368.2" x2="671" y2="368.2" stroke="#000" stroke-width="1.25"/>
<text x="650.15" y="377" font-size="7.2" font-weight="bold" text-anchor="middle" fill="#111" textLength="30.9" lengthAdjust="spacingAndGlyphs">Hypoxia</text>
<text x="109.8" y="409.6" font-size="12.2" font-weight="bold" text-anchor="middle" fill="#111" textLength="49" lengthAdjust="spacingAndGlyphs" stroke="#111" stroke-width="0.25">LN-229</text>
<text x="110.2" y="419.4" font-size="7.1" font-weight="normal" text-anchor="middle" fill="#111" textLength="68.5" lengthAdjust="spacingAndGlyphs" stroke="#111" stroke-width="0.06">2 mM glucose, Ø FCS</text>
<text transform="translate(20.1 500.75) rotate(-90)" x="0" y="0" font-size="10.8" font-weight="bold" text-anchor="middle" fill="#000" stroke="#000" stroke-width="0.35" textLength="90.2" lengthAdjust="spacingAndGlyphs">LDH Release<tspan font-weight="normal" stroke-width="0.3"> [%]</tspan></text>
<line x1="37.7" y1="555.5" x2="41.9" y2="555.5" stroke="#111" stroke-width="1.3"/>
<text x="36.5" y="558.63" font-size="6.8" font-weight="bold" text-anchor="end" fill="#111" stroke="#111" stroke-width="0.12">0</text>
<line x1="37.7" y1="533.6" x2="41.9" y2="533.6" stroke="#111" stroke-width="1.3"/>
<text x="36.5" y="536.73" font-size="6.8" font-weight="bold" text-anchor="end" fill="#111" stroke="#111" stroke-width="0.12">20</text>
<line x1="37.7" y1="511.7" x2="41.9" y2="511.7" stroke="#111" stroke-width="1.3"/>
<text x="36.5" y="514.83" font-size="6.8" font-weight="bold" text-anchor="end" fill="#111" stroke="#111" stroke-width="0.12">40</text>
<line x1="37.7" y1="489.8" x2="41.9" y2="489.8" stroke="#111" stroke-width="1.3"/>
<text x="36.5" y="492.93" font-size="6.8" font-weight="bold" text-anchor="end" fill="#111" stroke="#111" stroke-width="0.12">60</text>
<line x1="37.7" y1="467.9" x2="41.9" y2="467.9" stroke="#111" stroke-width="1.3"/>
<text x="36.5" y="471.03" font-size="6.8" font-weight="bold" text-anchor="end" fill="#111" stroke="#111" stroke-width="0.12">80</text>
<line x1="37.7" y1="446" x2="41.9" y2="446" stroke="#111" stroke-width="1.3"/>
<text x="36.5" y="449.13" font-size="6.8" font-weight="bold" text-anchor="end" fill="#111" stroke="#111" stroke-width="0.12">100</text>
<line x1="59.13" y1="550.2" x2="59.13" y2="546.5" stroke="#333" stroke-width="1"/>
<line x1="54.63" y1="546.5" x2="63.62" y2="546.5" stroke="#333" stroke-width="1"/>
<rect x="51.68" y="550.93" width="14.9" height="4.57" fill="#a2afbb" stroke="#1a1a1a" stroke-width="1.45"/>
<line x1="84.67" y1="535.5" x2="84.67" y2="527.3" stroke="#333" stroke-width="1"/>
<line x1="80.1" y1="527.3" x2="89.25" y2="527.3" stroke="#333" stroke-width="1"/>
<rect x="77.07" y="536.23" width="15.2" height="19.27" fill="#4430a0" stroke="#1a1a1a" stroke-width="1.45"/>
<line x1="127.47" y1="487.3" x2="127.47" y2="484" stroke="#333" stroke-width="1"/>
<line x1="122.84" y1="484" x2="132.11" y2="484" stroke="#333" stroke-width="1"/>
<rect x="119.77" y="488.03" width="15.4" height="67.47" fill="#a2afbb" stroke="#1a1a1a" stroke-width="1.45"/>
<line x1="152.98" y1="455.4" x2="152.98" y2="451.4" stroke="#333" stroke-width="1"/>
<line x1="148.34" y1="451.4" x2="157.61" y2="451.4" stroke="#333" stroke-width="1"/>
<rect x="145.28" y="456.12" width="15.4" height="99.38" fill="#4430a0" stroke="#1a1a1a" stroke-width="1.45"/>
<line x1="41.9" y1="445.4" x2="41.9" y2="556.2" stroke="#111" stroke-width="1.6"/>
<line x1="41.15" y1="555.5" x2="170" y2="555.5" stroke="#0a0a0a" stroke-width="1.5"/>
<path d="M57.4 534.8V508H84.4V521" fill="none" stroke="#222" stroke-width="1.1"/>
<text x="70.9" y="503.5" font-size="6.6" font-weight="normal" text-anchor="middle" fill="#222" stroke="#111" stroke-width="0.18">ns</text>
<path d="M127.6 469.4V433.2H153V443.9" fill="none" stroke="#222" stroke-width="1.1"/>
<path d="M136.35 424.65L136.35 428.15M137.87 425.52L134.83 427.27M137.87 427.27L134.83 425.52" stroke="#1a1a1a" stroke-width="1.05" stroke-linecap="round"/>
<path d="M140.3 424.65L140.3 428.15M141.82 425.52L138.78 427.27M141.82 427.27L138.78 425.52" stroke="#1a1a1a" stroke-width="1.05" stroke-linecap="round"/>
<path d="M144.25 424.65L144.25 428.15M145.77 425.52L142.73 427.27M145.77 427.27L142.73 425.52" stroke="#1a1a1a" stroke-width="1.05" stroke-linecap="round"/>
<text x="51.7" y="568.1" font-size="7.3" font-weight="normal" text-anchor="start" fill="#111" textLength="17.6" lengthAdjust="spacingAndGlyphs" stroke="#111" stroke-width="0.18">NTsh</text>
<text x="74.1" y="568.1" font-size="7.3" font-weight="normal" text-anchor="start" fill="#111" textLength="29" lengthAdjust="spacingAndGlyphs" stroke="#111" stroke-width="0.18">SOD1sh</text>
<text x="78.1" y="577.3" font-size="7.3" font-weight="normal" text-anchor="start" fill="#111" textLength="17.6" lengthAdjust="spacingAndGlyphs" stroke="#111" stroke-width="0.18">Seq1</text>
<text x="119.8" y="568.1" font-size="7.3" font-weight="normal" text-anchor="start" fill="#111" textLength="17.6" lengthAdjust="spacingAndGlyphs" stroke="#111" stroke-width="0.18">NTsh</text>
<text x="142.3" y="568.1" font-size="7.3" font-weight="normal" text-anchor="start" fill="#111" textLength="29" lengthAdjust="spacingAndGlyphs" stroke="#111" stroke-width="0.18">SOD1sh</text>
<text x="146.3" y="577.3" font-size="7.3" font-weight="normal" text-anchor="start" fill="#111" textLength="17.6" lengthAdjust="spacingAndGlyphs" stroke="#111" stroke-width="0.18">Seq1</text>
<line x1="51.2" y1="583" x2="94.1" y2="583" stroke="#000" stroke-width="1.25"/>
<text x="74.3" y="592.3" font-size="7.2" font-weight="bold" text-anchor="middle" fill="#111" textLength="35.8" lengthAdjust="spacingAndGlyphs">Normoxia</text>
<line x1="119.3" y1="583" x2="161.8" y2="583" stroke="#000" stroke-width="1.25"/>
<text x="142.3" y="592.3" font-size="7.2" font-weight="bold" text-anchor="middle" fill="#111" textLength="30.6" lengthAdjust="spacingAndGlyphs">Hypoxia</text>
<text x="262.6" y="410.2" font-size="12.2" font-weight="bold" text-anchor="middle" fill="#111" textLength="49.2" lengthAdjust="spacingAndGlyphs" stroke="#111" stroke-width="0.25">LN-229</text>
<text x="262.65" y="419.4" font-size="7.1" font-weight="normal" text-anchor="middle" fill="#111" textLength="67.8" lengthAdjust="spacingAndGlyphs" stroke="#111" stroke-width="0.06">2 mM glucose, Ø FCS</text>
<line x1="190.1" y1="555.5" x2="194.3" y2="555.5" stroke="#111" stroke-width="1.3"/>
<text x="189.2" y="558.63" font-size="6.8" font-weight="bold" text-anchor="end" fill="#111" stroke="#111" stroke-width="0.12">0</text>
<line x1="190.1" y1="533.6" x2="194.3" y2="533.6" stroke="#111" stroke-width="1.3"/>
<text x="189.2" y="536.73" font-size="6.8" font-weight="bold" text-anchor="end" fill="#111" stroke="#111" stroke-width="0.12">20</text>
<line x1="190.1" y1="511.7" x2="194.3" y2="511.7" stroke="#111" stroke-width="1.3"/>
<text x="189.2" y="514.83" font-size="6.8" font-weight="bold" text-anchor="end" fill="#111" stroke="#111" stroke-width="0.12">40</text>
<line x1="190.1" y1="489.8" x2="194.3" y2="489.8" stroke="#111" stroke-width="1.3"/>
<text x="189.2" y="492.93" font-size="6.8" font-weight="bold" text-anchor="end" fill="#111" stroke="#111" stroke-width="0.12">60</text>
<line x1="190.1" y1="467.9" x2="194.3" y2="467.9" stroke="#111" stroke-width="1.3"/>
<text x="189.2" y="471.03" font-size="6.8" font-weight="bold" text-anchor="end" fill="#111" stroke="#111" stroke-width="0.12">80</text>
<line x1="190.1" y1="446" x2="194.3" y2="446" stroke="#111" stroke-width="1.3"/>
<text x="189.2" y="449.13" font-size="6.8" font-weight="bold" text-anchor="end" fill="#111" stroke="#111" stroke-width="0.12">100</text>
<line x1="211.38" y1="548.5" x2="211.38" y2="544.5" stroke="#333" stroke-width="1"/>
<line x1="206.74" y1="544.5" x2="216.01" y2="544.5" stroke="#333" stroke-width="1"/>
<rect x="203.67" y="549.23" width="15.4" height="6.28" fill="#a2afbb" stroke="#1a1a1a" stroke-width="1.45"/>
<line x1="237.03" y1="545.5" x2="237.03" y2="541.2" stroke="#333" stroke-width="1"/>
<line x1="232.42" y1="541.2" x2="241.63" y2="541.2" stroke="#333" stroke-width="1"/>
<rect x="229.38" y="546.23" width="15.3" height="9.28" fill="#cadde8" stroke="#1a1a1a" stroke-width="1.45"/>
<line x1="279.67" y1="495.3" x2="279.67" y2="491.8" stroke="#333" stroke-width="1"/>
<line x1="275.04" y1="491.8" x2="284.31" y2="491.8" stroke="#333" stroke-width="1"/>
<rect x="271.98" y="496.03" width="15.4" height="59.47" fill="#a2afbb" stroke="#1a1a1a" stroke-width="1.45"/>
<line x1="305.38" y1="459.7" x2="305.38" y2="455.6" stroke="#333" stroke-width="1"/>
<line x1="300.74" y1="455.6" x2="310.01" y2="455.6" stroke="#333" stroke-width="1"/>
<rect x="297.68" y="460.43" width="15.4" height="95.08" fill="#cadde8" stroke="#1a1a1a" stroke-width="1.45"/>
<line x1="194.3" y1="445.4" x2="194.3" y2="556.2" stroke="#111" stroke-width="1.6"/>
<line x1="193.55" y1="555.5" x2="322" y2="555.5" stroke="#0a0a0a" stroke-width="1.5"/>
<path d="M211.3 535.8V526.4H237.5V535.8" fill="none" stroke="#222" stroke-width="1.1"/>
<text x="224.4" y="521.5" font-size="6.6" font-weight="normal" text-anchor="middle" fill="#222" stroke="#111" stroke-width="0.18">ns</text>
<path d="M279.6 484.5V436.4H305.8V448" fill="none" stroke="#222" stroke-width="1.1"/>
<path d="M288.75 428.75L288.75 432.25M290.27 429.62L287.23 431.38M290.27 431.38L287.23 429.62" stroke="#1a1a1a" stroke-width="1.05" stroke-linecap="round"/>
<path d="M292.7 428.75L292.7 432.25M294.22 429.62L291.18 431.38M294.22 431.38L291.18 429.62" stroke="#1a1a1a" stroke-width="1.05" stroke-linecap="round"/>
<path d="M296.65 428.75L296.65 432.25M298.17 429.62L295.13 431.38M298.17 431.38L295.13 429.62" stroke="#1a1a1a" stroke-width="1.05" stroke-linecap="round"/>
<text x="203.2" y="567.6" font-size="7.3" font-weight="normal" text-anchor="start" fill="#111" textLength="17.6" lengthAdjust="spacingAndGlyphs" stroke="#111" stroke-width="0.18">NTsh</text>
<text x="225.4" y="567.6" font-size="7.3" font-weight="normal" text-anchor="start" fill="#111" textLength="29" lengthAdjust="spacingAndGlyphs" stroke="#111" stroke-width="0.18">SOD1sh</text>
<text x="230.2" y="577" font-size="7.3" font-weight="normal" text-anchor="start" fill="#111" textLength="17.6" lengthAdjust="spacingAndGlyphs" stroke="#111" stroke-width="0.18">Seq3</text>
<text x="271.5" y="567.6" font-size="7.3" font-weight="normal" text-anchor="start" fill="#111" textLength="17.6" lengthAdjust="spacingAndGlyphs" stroke="#111" stroke-width="0.18">NTsh</text>
<text x="293.7" y="567.6" font-size="7.3" font-weight="normal" text-anchor="start" fill="#111" textLength="29" lengthAdjust="spacingAndGlyphs" stroke="#111" stroke-width="0.18">SOD1sh</text>
<text x="298.5" y="577" font-size="7.3" font-weight="normal" text-anchor="start" fill="#111" textLength="17.6" lengthAdjust="spacingAndGlyphs" stroke="#111" stroke-width="0.18">Seq3</text>
<line x1="203.2" y1="583.1" x2="245.6" y2="583.1" stroke="#000" stroke-width="1.25"/>
<text x="225.6" y="592.4" font-size="7.2" font-weight="bold" text-anchor="middle" fill="#111" textLength="35.8" lengthAdjust="spacingAndGlyphs">Normoxia</text>
<line x1="270.7" y1="583.1" x2="314" y2="583.1" stroke="#000" stroke-width="1.25"/>
<text x="293.65" y="592.4" font-size="7.2" font-weight="bold" text-anchor="middle" fill="#111" textLength="30.3" lengthAdjust="spacingAndGlyphs">Hypoxia</text>
<text x="461.95" y="410.2" font-size="12.2" font-weight="bold" text-anchor="middle" fill="#111" textLength="36.5" lengthAdjust="spacingAndGlyphs" stroke="#111" stroke-width="0.25">T98G</text>
<text x="461.95" y="419.4" font-size="7.1" font-weight="normal" text-anchor="middle" fill="#111" textLength="68.6" lengthAdjust="spacingAndGlyphs" stroke="#111" stroke-width="0.06">2 mM glucose, Ø FCS</text>
<text transform="translate(377.6 504.45) rotate(-90)" x="0" y="0" font-size="10.8" font-weight="bold" text-anchor="middle" fill="#000" stroke="#000" stroke-width="0.35" textLength="90.2" lengthAdjust="spacingAndGlyphs">LDH Release<tspan font-weight="normal" stroke-width="0.3"> [%]</tspan></text>
<line x1="394.3" y1="555.8" x2="398.5" y2="555.8" stroke="#111" stroke-width="1.3"/>
<text x="393.4" y="558.93" font-size="6.8" font-weight="bold" text-anchor="end" fill="#111" stroke="#111" stroke-width="0.12">0</text>
<line x1="394.3" y1="533.84" x2="398.5" y2="533.84" stroke="#111" stroke-width="1.3"/>
<text x="393.4" y="536.97" font-size="6.8" font-weight="bold" text-anchor="end" fill="#111" stroke="#111" stroke-width="0.12">20</text>
<line x1="394.3" y1="511.88" x2="398.5" y2="511.88" stroke="#111" stroke-width="1.3"/>
<text x="393.4" y="515.01" font-size="6.8" font-weight="bold" text-anchor="end" fill="#111" stroke="#111" stroke-width="0.12">40</text>
<line x1="394.3" y1="489.92" x2="398.5" y2="489.92" stroke="#111" stroke-width="1.3"/>
<text x="393.4" y="493.05" font-size="6.8" font-weight="bold" text-anchor="end" fill="#111" stroke="#111" stroke-width="0.12">60</text>
<line x1="394.3" y1="467.96" x2="398.5" y2="467.96" stroke="#111" stroke-width="1.3"/>
<text x="393.4" y="471.09" font-size="6.8" font-weight="bold" text-anchor="end" fill="#111" stroke="#111" stroke-width="0.12">80</text>
<line x1="394.3" y1="446" x2="398.5" y2="446" stroke="#111" stroke-width="1.3"/>
<text x="393.4" y="449.13" font-size="6.8" font-weight="bold" text-anchor="end" fill="#111" stroke="#111" stroke-width="0.12">100</text>
<line x1="415.42" y1="539.3" x2="415.42" y2="535" stroke="#333" stroke-width="1"/>
<line x1="410.65" y1="535" x2="420.2" y2="535" stroke="#333" stroke-width="1"/>
<rect x="407.48" y="540.02" width="15.9" height="15.78" fill="#a2afbb" stroke="#1a1a1a" stroke-width="1.45"/>
<line x1="441.38" y1="546.6" x2="441.38" y2="539.9" stroke="#333" stroke-width="1"/>
<line x1="436.74" y1="539.9" x2="446.01" y2="539.9" stroke="#333" stroke-width="1"/>
<rect x="433.68" y="547.33" width="15.4" height="8.47" fill="#4430a0" stroke="#1a1a1a" stroke-width="1.45"/>
<line x1="483.48" y1="543.4" x2="483.48" y2="538.5" stroke="#333" stroke-width="1"/>
<line x1="478.68" y1="538.5" x2="488.27" y2="538.5" stroke="#333" stroke-width="1"/>
<rect x="475.48" y="544.12" width="16" height="11.67" fill="#a2afbb" stroke="#1a1a1a" stroke-width="1.45"/>
<line x1="509.38" y1="502.9" x2="509.38" y2="496.7" stroke="#333" stroke-width="1"/>
<line x1="504.74" y1="496.7" x2="514.01" y2="496.7" stroke="#333" stroke-width="1"/>
<rect x="501.68" y="503.62" width="15.4" height="52.17" fill="#4430a0" stroke="#1a1a1a" stroke-width="1.45"/>
<line x1="398.5" y1="445.4" x2="398.5" y2="556.5" stroke="#111" stroke-width="1.6"/>
<line x1="397.75" y1="555.8" x2="526.6" y2="555.8" stroke="#0a0a0a" stroke-width="1.5"/>
<path d="M416.2 530.4V524.5H441.3V534.5" fill="none" stroke="#222" stroke-width="1.1"/>
<text x="428.75" y="520.2" font-size="6.6" font-weight="normal" text-anchor="middle" fill="#222" stroke="#111" stroke-width="0.18">ns</text>
<path d="M484 535.8V474.5H509.6V489.9" fill="none" stroke="#222" stroke-width="1.1"/>
<path d="M494.82 466.55L494.82 470.05M496.34 467.43L493.31 469.18M496.34 469.18L493.31 467.43" stroke="#1a1a1a" stroke-width="1.05" stroke-linecap="round"/>
<path d="M498.78 466.55L498.78 470.05M500.29 467.43L497.26 469.18M500.29 469.18L497.26 467.43" stroke="#1a1a1a" stroke-width="1.05" stroke-linecap="round"/>
<text x="408" y="566.7" font-size="7.3" font-weight="normal" text-anchor="start" fill="#111" textLength="17.6" lengthAdjust="spacingAndGlyphs" stroke="#111" stroke-width="0.18">NTsh</text>
<text x="431" y="566.7" font-size="7.3" font-weight="normal" text-anchor="start" fill="#111" textLength="29" lengthAdjust="spacingAndGlyphs" stroke="#111" stroke-width="0.18">SOD1sh</text>
<text x="435.9" y="576.7" font-size="7.3" font-weight="normal" text-anchor="start" fill="#111" textLength="17.6" lengthAdjust="spacingAndGlyphs" stroke="#111" stroke-width="0.18">Seq1</text>
<text x="476" y="566.7" font-size="7.3" font-weight="normal" text-anchor="start" fill="#111" textLength="17.6" lengthAdjust="spacingAndGlyphs" stroke="#111" stroke-width="0.18">NTsh</text>
<text x="499" y="566.7" font-size="7.3" font-weight="normal" text-anchor="start" fill="#111" textLength="29" lengthAdjust="spacingAndGlyphs" stroke="#111" stroke-width="0.18">SOD1sh</text>
<text x="503.9" y="576.7" font-size="7.3" font-weight="normal" text-anchor="start" fill="#111" textLength="17.6" lengthAdjust="spacingAndGlyphs" stroke="#111" stroke-width="0.18">Seq1</text>
<line x1="407.5" y1="583.1" x2="451.3" y2="583.1" stroke="#000" stroke-width="1.25"/>
<text x="431.3" y="591.6" font-size="7.2" font-weight="bold" text-anchor="middle" fill="#111" textLength="36.2" lengthAdjust="spacingAndGlyphs">Normoxia</text>
<line x1="476.4" y1="583.1" x2="518.8" y2="583.1" stroke="#000" stroke-width="1.25"/>
<text x="499.35" y="591.6" font-size="7.2" font-weight="bold" text-anchor="middle" fill="#111" textLength="30.3" lengthAdjust="spacingAndGlyphs">Hypoxia</text>
<text x="613.85" y="410.2" font-size="12.2" font-weight="bold" text-anchor="middle" fill="#111" textLength="36.5" lengthAdjust="spacingAndGlyphs" stroke="#111" stroke-width="0.25">T98G</text>
<text x="614.5" y="419.4" font-size="7.1" font-weight="normal" text-anchor="middle" fill="#111" textLength="68.3" lengthAdjust="spacingAndGlyphs" stroke="#111" stroke-width="0.06">2 mM glucose, Ø FCS</text>
<line x1="547.6" y1="555.3" x2="551.8" y2="555.3" stroke="#111" stroke-width="1.3"/>
<text x="546.5" y="558.43" font-size="6.8" font-weight="bold" text-anchor="end" fill="#111" stroke="#111" stroke-width="0.12">0</text>
<line x1="547.6" y1="533.36" x2="551.8" y2="533.36" stroke="#111" stroke-width="1.3"/>
<text x="546.5" y="536.49" font-size="6.8" font-weight="bold" text-anchor="end" fill="#111" stroke="#111" stroke-width="0.12">20</text>
<line x1="547.6" y1="511.42" x2="551.8" y2="511.42" stroke="#111" stroke-width="1.3"/>
<text x="546.5" y="514.55" font-size="6.8" font-weight="bold" text-anchor="end" fill="#111" stroke="#111" stroke-width="0.12">40</text>
<line x1="547.6" y1="489.48" x2="551.8" y2="489.48" stroke="#111" stroke-width="1.3"/>
<text x="546.5" y="492.61" font-size="6.8" font-weight="bold" text-anchor="end" fill="#111" stroke="#111" stroke-width="0.12">60</text>
<line x1="547.6" y1="467.54" x2="551.8" y2="467.54" stroke="#111" stroke-width="1.3"/>
<text x="546.5" y="470.67" font-size="6.8" font-weight="bold" text-anchor="end" fill="#111" stroke="#111" stroke-width="0.12">80</text>
<line x1="547.6" y1="445.6" x2="551.8" y2="445.6" stroke="#111" stroke-width="1.3"/>
<text x="546.5" y="448.73" font-size="6.8" font-weight="bold" text-anchor="end" fill="#111" stroke="#111" stroke-width="0.12">100</text>
<line x1="569.22" y1="539" x2="569.22" y2="534.7" stroke="#333" stroke-width="1"/>
<line x1="564.45" y1="534.7" x2="574" y2="534.7" stroke="#333" stroke-width="1"/>
<rect x="561.27" y="539.73" width="15.9" height="15.57" fill="#a2afbb" stroke="#1a1a1a" stroke-width="1.45"/>
<line x1="594.58" y1="548" x2="594.58" y2="543.9" stroke="#333" stroke-width="1"/>
<line x1="589.94" y1="543.9" x2="599.21" y2="543.9" stroke="#333" stroke-width="1"/>
<rect x="586.88" y="548.73" width="15.4" height="6.57" fill="#cadde8" stroke="#1a1a1a" stroke-width="1.45"/>
<line x1="637.12" y1="542.8" x2="637.12" y2="538" stroke="#333" stroke-width="1"/>
<line x1="632.41" y1="538" x2="641.84" y2="538" stroke="#333" stroke-width="1"/>
<rect x="629.27" y="543.52" width="15.7" height="11.78" fill="#a2afbb" stroke="#1a1a1a" stroke-width="1.45"/>
<line x1="662.88" y1="477.2" x2="662.88" y2="474" stroke="#333" stroke-width="1"/>
<line x1="658.24" y1="474" x2="667.51" y2="474" stroke="#333" stroke-width="1"/>
<rect x="655.18" y="477.93" width="15.4" height="77.37" fill="#cadde8" stroke="#1a1a1a" stroke-width="1.45"/>
<line x1="551.8" y1="445" x2="551.8" y2="556" stroke="#111" stroke-width="1.6"/>
<line x1="551.05" y1="555.3" x2="679.6" y2="555.3" stroke="#0a0a0a" stroke-width="1.5"/>
<path d="M567.5 529.1V522.3H594.5V535.8" fill="none" stroke="#222" stroke-width="1.1"/>
<text x="581" y="518" font-size="6.6" font-weight="normal" text-anchor="middle" fill="#222" stroke="#111" stroke-width="0.18">ns</text>
<path d="M637.2 530.4V450H663.1V468.3" fill="none" stroke="#222" stroke-width="1.1"/>
<path d="M648.18 441.75L648.18 445.25M649.69 442.62L646.66 444.38M649.69 444.38L646.66 442.62" stroke="#1a1a1a" stroke-width="1.05" stroke-linecap="round"/>
<path d="M652.13 441.75L652.13 445.25M653.64 442.62L650.61 444.38M653.64 444.38L650.61 442.62" stroke="#1a1a1a" stroke-width="1.05" stroke-linecap="round"/>
<text x="560.8" y="566.2" font-size="7.3" font-weight="normal" text-anchor="start" fill="#111" textLength="17.6" lengthAdjust="spacingAndGlyphs" stroke="#111" stroke-width="0.18">NTsh</text>
<text x="583.2" y="566.2" font-size="7.3" font-weight="normal" text-anchor="start" fill="#111" textLength="29" lengthAdjust="spacingAndGlyphs" stroke="#111" stroke-width="0.18">SOD1sh</text>
<text x="587.2" y="576.2" font-size="7.3" font-weight="normal" text-anchor="start" fill="#111" textLength="17.6" lengthAdjust="spacingAndGlyphs" stroke="#111" stroke-width="0.18">Seq3</text>
<text x="628.8" y="566.2" font-size="7.3" font-weight="normal" text-anchor="start" fill="#111" textLength="17.6" lengthAdjust="spacingAndGlyphs" stroke="#111" stroke-width="0.18">NTsh</text>
<text x="651.5" y="566.2" font-size="7.3" font-weight="normal" text-anchor="start" fill="#111" textLength="29" lengthAdjust="spacingAndGlyphs" stroke="#111" stroke-width="0.18">SOD1sh</text>
<text x="655.5" y="576.2" font-size="7.3" font-weight="normal" text-anchor="start" fill="#111" textLength="17.6" lengthAdjust="spacingAndGlyphs" stroke="#111" stroke-width="0.18">Seq3</text>
<line x1="560.8" y1="581.7" x2="603.2" y2="581.7" stroke="#000" stroke-width="1.25"/>
<text x="583.15" y="591" font-size="7.2" font-weight="bold" text-anchor="middle" fill="#111" textLength="35.7" lengthAdjust="spacingAndGlyphs">Normoxia</text>
<line x1="628.3" y1="581.7" x2="671" y2="581.7" stroke="#000" stroke-width="1.25"/>
<text x="651.25" y="591" font-size="7.2" font-weight="bold" text-anchor="middle" fill="#111" textLength="30.3" lengthAdjust="spacingAndGlyphs">Hypoxia</text>
<text x="118.55" y="621.7" font-size="12.2" font-weight="bold" text-anchor="middle" fill="#111" textLength="45.5" lengthAdjust="spacingAndGlyphs" stroke="#111" stroke-width="0.25">LN-229</text>
<text x="118.85" y="632.9" font-size="7.1" font-weight="normal" text-anchor="middle" fill="#111" textLength="68.2" lengthAdjust="spacingAndGlyphs" stroke="#111" stroke-width="0.06">0 mM glucose, Ø FCS</text>
<text transform="translate(58 702.25) rotate(-90)" x="0" y="0" font-size="10.8" font-weight="bold" text-anchor="middle" fill="#000" stroke="#000" stroke-width="0.35" textLength="105.6" lengthAdjust="spacingAndGlyphs">PI positive cells<tspan font-weight="normal" stroke-width="0.3"> [%]</tspan></text>
<line x1="75.7" y1="761.8" x2="79.9" y2="761.8" stroke="#111" stroke-width="1.3"/>
<text x="74.3" y="764.97" font-size="6.9" font-weight="bold" text-anchor="end" fill="#111" stroke="#111" stroke-width="0.12">0</text>
<line x1="75.7" y1="739.6" x2="79.9" y2="739.6" stroke="#111" stroke-width="1.3"/>
<text x="74.3" y="742.77" font-size="6.9" font-weight="bold" text-anchor="end" fill="#111" stroke="#111" stroke-width="0.12">20</text>
<line x1="75.7" y1="717.4" x2="79.9" y2="717.4" stroke="#111" stroke-width="1.3"/>
<text x="74.3" y="720.57" font-size="6.9" font-weight="bold" text-anchor="end" fill="#111" stroke="#111" stroke-width="0.12">40</text>
<line x1="75.7" y1="695.2" x2="79.9" y2="695.2" stroke="#111" stroke-width="1.3"/>
<text x="74.3" y="698.37" font-size="6.9" font-weight="bold" text-anchor="end" fill="#111" stroke="#111" stroke-width="0.12">60</text>
<line x1="75.7" y1="673" x2="79.9" y2="673" stroke="#111" stroke-width="1.3"/>
<text x="74.3" y="676.17" font-size="6.9" font-weight="bold" text-anchor="end" fill="#111" stroke="#111" stroke-width="0.12">80</text>
<line x1="75.7" y1="650.8" x2="79.9" y2="650.8" stroke="#111" stroke-width="1.3"/>
<text x="74.3" y="653.97" font-size="6.9" font-weight="bold" text-anchor="end" fill="#111" stroke="#111" stroke-width="0.12">100</text>
<line x1="100.83" y1="714.1" x2="100.83" y2="710.6" stroke="#333" stroke-width="1"/>
<line x1="95.12" y1="710.6" x2="106.53" y2="710.6" stroke="#333" stroke-width="1"/>
<rect x="91.17" y="714.83" width="19.3" height="46.97" fill="#a2afbb" stroke="#1a1a1a" stroke-width="1.45"/>
<line x1="132.47" y1="701.4" x2="132.47" y2="698.1" stroke="#333" stroke-width="1"/>
<line x1="126.69" y1="698.1" x2="138.26" y2="698.1" stroke="#333" stroke-width="1"/>
<rect x="122.67" y="702.12" width="19.6" height="59.67" fill="#4430a0" stroke="#1a1a1a" stroke-width="1.45"/>
<line x1="79.9" y1="650.2" x2="79.9" y2="762.5" stroke="#111" stroke-width="1.6"/>
<line x1="79.15" y1="761.8" x2="152.8" y2="761.8" stroke="#0a0a0a" stroke-width="1.5"/>
<path d="M100.6 691.9V679.9H132.8V691.6" fill="none" stroke="#222" stroke-width="1.1"/>
<path d="M116.7 671.85L116.7 675.35M118.22 672.73L115.18 674.48M118.22 674.48L115.18 672.73" stroke="#1a1a1a" stroke-width="1.05" stroke-linecap="round"/>
<text x="91.9" y="774.3" font-size="7.3" font-weight="normal" text-anchor="start" fill="#111" textLength="17.6" lengthAdjust="spacingAndGlyphs" stroke="#111" stroke-width="0.18">NTsh</text>
<text x="120.6" y="774.3" font-size="7.3" font-weight="normal" text-anchor="start" fill="#111" textLength="29" lengthAdjust="spacingAndGlyphs" stroke="#111" stroke-width="0.18">SOD1sh</text>
<text x="124.8" y="782.3" font-size="7.3" font-weight="normal" text-anchor="start" fill="#111" textLength="17.6" lengthAdjust="spacingAndGlyphs" stroke="#111" stroke-width="0.18">Seq1</text>
<line x1="92.4" y1="788.5" x2="146.8" y2="788.5" stroke="#000" stroke-width="1.25"/>
<text x="119.2" y="796.6" font-size="7.2" font-weight="bold" text-anchor="middle" fill="#111" textLength="36.8" lengthAdjust="spacingAndGlyphs">Normoxia</text>
<text x="229" y="621.3" font-size="12.2" font-weight="bold" text-anchor="middle" fill="#111" textLength="45.2" lengthAdjust="spacingAndGlyphs" stroke="#111" stroke-width="0.25">LN-229</text>
<text x="229.4" y="632.9" font-size="7.1" font-weight="normal" text-anchor="middle" fill="#111" textLength="68.3" lengthAdjust="spacingAndGlyphs" stroke="#111" stroke-width="0.06">0 mM glucose, Ø FCS</text>
<line x1="180.6" y1="761.8" x2="184.8" y2="761.8" stroke="#111" stroke-width="1.3"/>
<text x="179.5" y="764.97" font-size="6.9" font-weight="bold" text-anchor="end" fill="#111" stroke="#111" stroke-width="0.12">0</text>
<line x1="180.6" y1="739.56" x2="184.8" y2="739.56" stroke="#111" stroke-width="1.3"/>
<text x="179.5" y="742.73" font-size="6.9" font-weight="bold" text-anchor="end" fill="#111" stroke="#111" stroke-width="0.12">20</text>
<line x1="180.6" y1="717.32" x2="184.8" y2="717.32" stroke="#111" stroke-width="1.3"/>
<text x="179.5" y="720.49" font-size="6.9" font-weight="bold" text-anchor="end" fill="#111" stroke="#111" stroke-width="0.12">40</text>
<line x1="180.6" y1="695.08" x2="184.8" y2="695.08" stroke="#111" stroke-width="1.3"/>
<text x="179.5" y="698.25" font-size="6.9" font-weight="bold" text-anchor="end" fill="#111" stroke="#111" stroke-width="0.12">60</text>
<line x1="180.6" y1="672.84" x2="184.8" y2="672.84" stroke="#111" stroke-width="1.3"/>
<text x="179.5" y="676.01" font-size="6.9" font-weight="bold" text-anchor="end" fill="#111" stroke="#111" stroke-width="0.12">80</text>
<line x1="180.6" y1="650.6" x2="184.8" y2="650.6" stroke="#111" stroke-width="1.3"/>
<text x="179.5" y="653.77" font-size="6.9" font-weight="bold" text-anchor="end" fill="#111" stroke="#111" stroke-width="0.12">100</text>
<line x1="205.82" y1="713.7" x2="205.82" y2="710.5" stroke="#333" stroke-width="1"/>
<line x1="200.01" y1="710.5" x2="211.64" y2="710.5" stroke="#333" stroke-width="1"/>
<rect x="195.97" y="714.43" width="19.7" height="47.37" fill="#a2afbb" stroke="#1a1a1a" stroke-width="1.45"/>
<line x1="237.43" y1="706" x2="237.43" y2="703.2" stroke="#333" stroke-width="1"/>
<line x1="231.61" y1="703.2" x2="243.24" y2="703.2" stroke="#333" stroke-width="1"/>
<rect x="227.57" y="706.73" width="19.7" height="55.07" fill="#cadde8" stroke="#1a1a1a" stroke-width="1.45"/>
<line x1="184.8" y1="650" x2="184.8" y2="762.5" stroke="#111" stroke-width="1.6"/>
<line x1="184.05" y1="761.8" x2="258.6" y2="761.8" stroke="#0a0a0a" stroke-width="1.5"/>
<path d="M205.9 705.3V683.7H238V696.7" fill="none" stroke="#222" stroke-width="1.1"/>
<text x="221.95" y="678.9" font-size="6.6" font-weight="normal" text-anchor="middle" fill="#222" stroke="#111" stroke-width="0.18">ns</text>
<text x="195.9" y="773.6" font-size="7.3" font-weight="normal" text-anchor="start" fill="#111" textLength="17.6" lengthAdjust="spacingAndGlyphs" stroke="#111" stroke-width="0.18">NTsh</text>
<text x="224.3" y="773.6" font-size="7.3" font-weight="normal" text-anchor="start" fill="#111" textLength="29" lengthAdjust="spacingAndGlyphs" stroke="#111" stroke-width="0.18">SOD1sh</text>
<text x="229.1" y="782.7" font-size="7.3" font-weight="normal" text-anchor="start" fill="#111" textLength="17.6" lengthAdjust="spacingAndGlyphs" stroke="#111" stroke-width="0.18">Seq3</text>
<line x1="195.9" y1="789" x2="250.5" y2="789" stroke="#000" stroke-width="1.25"/>
<text x="223.2" y="797.6" font-size="7.2" font-weight="bold" text-anchor="middle" fill="#111" textLength="36.2" lengthAdjust="spacingAndGlyphs">Normoxia</text>
<text x="353.2" y="621.3" font-size="12.2" font-weight="bold" text-anchor="middle" fill="#111" textLength="32.4" lengthAdjust="spacingAndGlyphs" stroke="#111" stroke-width="0.25">T98G</text>
<text x="353.75" y="632.9" font-size="7.1" font-weight="normal" text-anchor="middle" fill="#111" textLength="67.8" lengthAdjust="spacingAndGlyphs" stroke="#111" stroke-width="0.06">0 mM glucose, Ø FCS</text>
<text transform="translate(295.8 699.55) rotate(-90)" x="0" y="0" font-size="10.8" font-weight="bold" text-anchor="middle" fill="#000" stroke="#000" stroke-width="0.35" textLength="105.6" lengthAdjust="spacingAndGlyphs">PI positive cells<tspan font-weight="normal" stroke-width="0.3"> [%]</tspan></text>
<line x1="312.7" y1="761.8" x2="316.9" y2="761.8" stroke="#111" stroke-width="1.3"/>
<text x="311.6" y="764.97" font-size="6.9" font-weight="bold" text-anchor="end" fill="#111" stroke="#111" stroke-width="0.12">0</text>
<line x1="312.7" y1="740.14" x2="316.9" y2="740.14" stroke="#111" stroke-width="1.3"/>
<text x="311.6" y="743.31" font-size="6.9" font-weight="bold" text-anchor="end" fill="#111" stroke="#111" stroke-width="0.12">20</text>
<line x1="312.7" y1="718.48" x2="316.9" y2="718.48" stroke="#111" stroke-width="1.3"/>
<text x="311.6" y="721.65" font-size="6.9" font-weight="bold" text-anchor="end" fill="#111" stroke="#111" stroke-width="0.12">40</text>
<line x1="312.7" y1="696.82" x2="316.9" y2="696.82" stroke="#111" stroke-width="1.3"/>
<text x="311.6" y="699.99" font-size="6.9" font-weight="bold" text-anchor="end" fill="#111" stroke="#111" stroke-width="0.12">60</text>
<line x1="312.7" y1="675.16" x2="316.9" y2="675.16" stroke="#111" stroke-width="1.3"/>
<text x="311.6" y="678.33" font-size="6.9" font-weight="bold" text-anchor="end" fill="#111" stroke="#111" stroke-width="0.12">80</text>
<line x1="312.7" y1="653.5" x2="316.9" y2="653.5" stroke="#111" stroke-width="1.3"/>
<text x="311.6" y="656.67" font-size="6.9" font-weight="bold" text-anchor="end" fill="#111" stroke="#111" stroke-width="0.12">100</text>
<line x1="337.48" y1="682.6" x2="337.48" y2="678.6" stroke="#333" stroke-width="1"/>
<line x1="331.74" y1="678.6" x2="343.21" y2="678.6" stroke="#333" stroke-width="1"/>
<rect x="327.78" y="683.33" width="19.4" height="78.47" fill="#a2afbb" stroke="#1a1a1a" stroke-width="1.45"/>
<line x1="368.57" y1="670.4" x2="368.57" y2="668.3" stroke="#333" stroke-width="1"/>
<line x1="362.84" y1="668.3" x2="374.31" y2="668.3" stroke="#333" stroke-width="1"/>
<rect x="358.88" y="671.12" width="19.4" height="90.67" fill="#4430a0" stroke="#1a1a1a" stroke-width="1.45"/>
<line x1="316.9" y1="652.9" x2="316.9" y2="762.5" stroke="#111" stroke-width="1.6"/>
<line x1="316.15" y1="761.8" x2="388.8" y2="761.8" stroke="#0a0a0a" stroke-width="1.5"/>
<path d="M337.3 664.3V653.5H368.6V663.7" fill="none" stroke="#222" stroke-width="1.1"/>
<path d="M352.95 645.55L352.95 649.05M354.47 646.42L351.43 648.17M354.47 648.17L351.43 646.42" stroke="#1a1a1a" stroke-width="1.05" stroke-linecap="round"/>
<text x="328.6" y="773.3" font-size="7.3" font-weight="normal" text-anchor="start" fill="#111" textLength="17.6" lengthAdjust="spacingAndGlyphs" stroke="#111" stroke-width="0.18">NTsh</text>
<text x="356.4" y="773.3" font-size="7.3" font-weight="normal" text-anchor="start" fill="#111" textLength="29" lengthAdjust="spacingAndGlyphs" stroke="#111" stroke-width="0.18">SOD1sh</text>
<text x="360.5" y="781.6" font-size="7.3" font-weight="normal" text-anchor="start" fill="#111" textLength="17.6" lengthAdjust="spacingAndGlyphs" stroke="#111" stroke-width="0.18">Seq1</text>
<line x1="325.9" y1="788.2" x2="379.4" y2="788.2" stroke="#000" stroke-width="1.25"/>
<text x="352.35" y="796.5" font-size="7.2" font-weight="bold" text-anchor="middle" fill="#111" textLength="35.7" lengthAdjust="spacingAndGlyphs">Normoxia</text>
<text x="449.65" y="621.3" font-size="12.2" font-weight="bold" text-anchor="middle" fill="#111" textLength="32.5" lengthAdjust="spacingAndGlyphs" stroke="#111" stroke-width="0.25">T98G</text>
<text x="450.35" y="632.9" font-size="7.1" font-weight="normal" text-anchor="middle" fill="#111" textLength="68.6" lengthAdjust="spacingAndGlyphs" stroke="#111" stroke-width="0.06">0 mM glucose, Ø FCS</text>
<line x1="409.6" y1="761.5" x2="413.8" y2="761.5" stroke="#111" stroke-width="1.3"/>
<text x="408.8" y="764.67" font-size="6.9" font-weight="bold" text-anchor="end" fill="#111" stroke="#111" stroke-width="0.12">0</text>
<line x1="409.6" y1="739.86" x2="413.8" y2="739.86" stroke="#111" stroke-width="1.3"/>
<text x="408.8" y="743.03" font-size="6.9" font-weight="bold" text-anchor="end" fill="#111" stroke="#111" stroke-width="0.12">20</text>
<line x1="409.6" y1="718.22" x2="413.8" y2="718.22" stroke="#111" stroke-width="1.3"/>
<text x="408.8" y="721.39" font-size="6.9" font-weight="bold" text-anchor="end" fill="#111" stroke="#111" stroke-width="0.12">40</text>
<line x1="409.6" y1="696.58" x2="413.8" y2="696.58" stroke="#111" stroke-width="1.3"/>
<text x="408.8" y="699.75" font-size="6.9" font-weight="bold" text-anchor="end" fill="#111" stroke="#111" stroke-width="0.12">60</text>
<line x1="409.6" y1="674.94" x2="413.8" y2="674.94" stroke="#111" stroke-width="1.3"/>
<text x="408.8" y="678.11" font-size="6.9" font-weight="bold" text-anchor="end" fill="#111" stroke="#111" stroke-width="0.12">80</text>
<line x1="409.6" y1="653.3" x2="413.8" y2="653.3" stroke="#111" stroke-width="1.3"/>
<text x="408.8" y="656.47" font-size="6.9" font-weight="bold" text-anchor="end" fill="#111" stroke="#111" stroke-width="0.12">100</text>
<line x1="434.48" y1="682.4" x2="434.48" y2="678.3" stroke="#333" stroke-width="1"/>
<line x1="428.74" y1="678.3" x2="440.21" y2="678.3" stroke="#333" stroke-width="1"/>
<rect x="424.78" y="683.12" width="19.4" height="78.38" fill="#a2afbb" stroke="#1a1a1a" stroke-width="1.45"/>
<line x1="465.48" y1="661.5" x2="465.48" y2="660.5" stroke="#333" stroke-width="1"/>
<line x1="459.69" y1="660.5" x2="471.26" y2="660.5" stroke="#333" stroke-width="1"/>
<rect x="455.68" y="662.23" width="19.6" height="99.28" fill="#cadde8" stroke="#1a1a1a" stroke-width="1.45"/>
<line x1="413.8" y1="652.7" x2="413.8" y2="762.2" stroke="#111" stroke-width="1.6"/>
<line x1="413.05" y1="761.5" x2="485.9" y2="761.5" stroke="#0a0a0a" stroke-width="1.5"/>
<path d="M434.6 655.4V643.7H466.2V655.4" fill="none" stroke="#222" stroke-width="1.1"/>
<path d="M450.4 636.05L450.4 639.55M451.92 636.92L448.88 638.67M451.92 638.67L448.88 636.92" stroke="#1a1a1a" stroke-width="1.05" stroke-linecap="round"/>
<text x="425.1" y="773.3" font-size="7.3" font-weight="normal" text-anchor="start" fill="#111" textLength="17.6" lengthAdjust="spacingAndGlyphs" stroke="#111" stroke-width="0.18">NTsh</text>
<text x="452.7" y="773.3" font-size="7.3" font-weight="normal" text-anchor="start" fill="#111" textLength="29" lengthAdjust="spacingAndGlyphs" stroke="#111" stroke-width="0.18">SOD1sh</text>
<text x="457" y="781.6" font-size="7.3" font-weight="normal" text-anchor="start" fill="#111" textLength="17.6" lengthAdjust="spacingAndGlyphs" stroke="#111" stroke-width="0.18">Seq3</text>
<line x1="422.4" y1="788.2" x2="475.9" y2="788.2" stroke="#000" stroke-width="1.25"/>
<text x="449.15" y="796.5" font-size="7.2" font-weight="bold" text-anchor="middle" fill="#111" textLength="36.3" lengthAdjust="spacingAndGlyphs">Normoxia</text>
<text x="105.2" y="826.7" font-size="12.2" font-weight="bold" text-anchor="middle" fill="#111" textLength="44.8" lengthAdjust="spacingAndGlyphs" stroke="#111" stroke-width="0.25">LN-229</text>
<text x="105.05" y="836.9" font-size="7.1" font-weight="normal" text-anchor="middle" fill="#111" textLength="67.2" lengthAdjust="spacingAndGlyphs" stroke="#111" stroke-width="0.06">2 mM glucose, Ø FCS</text>
<text transform="translate(19.9 916.9) rotate(-90)" x="0" y="0" font-size="10.8" font-weight="bold" text-anchor="middle" fill="#000" stroke="#000" stroke-width="0.35" textLength="107.9" lengthAdjust="spacingAndGlyphs">NADPH/NADP ratio</text>
<line x1="35.6" y1="972.8" x2="39.8" y2="972.8" stroke="#111" stroke-width="1.3"/>
<text x="34.8" y="975.93" font-size="6.8" font-weight="bold" text-anchor="end" fill="#111" stroke="#111" stroke-width="0.12">0.0</text>
<line x1="35.6" y1="954.15" x2="39.8" y2="954.15" stroke="#111" stroke-width="1.3"/>
<text x="34.8" y="957.28" font-size="6.8" font-weight="bold" text-anchor="end" fill="#111" stroke="#111" stroke-width="0.12">0.2</text>
<line x1="35.6" y1="935.5" x2="39.8" y2="935.5" stroke="#111" stroke-width="1.3"/>
<text x="34.8" y="938.63" font-size="6.8" font-weight="bold" text-anchor="end" fill="#111" stroke="#111" stroke-width="0.12">0.4</text>
<line x1="35.6" y1="916.85" x2="39.8" y2="916.85" stroke="#111" stroke-width="1.3"/>
<text x="34.8" y="919.98" font-size="6.8" font-weight="bold" text-anchor="end" fill="#111" stroke="#111" stroke-width="0.12">0.6</text>
<line x1="35.6" y1="898.2" x2="39.8" y2="898.2" stroke="#111" stroke-width="1.3"/>
<text x="34.8" y="901.33" font-size="6.8" font-weight="bold" text-anchor="end" fill="#111" stroke="#111" stroke-width="0.12">0.8</text>
<line x1="35.6" y1="879.55" x2="39.8" y2="879.55" stroke="#111" stroke-width="1.3"/>
<text x="34.8" y="882.68" font-size="6.8" font-weight="bold" text-anchor="end" fill="#111" stroke="#111" stroke-width="0.12">1.0</text>
<line x1="35.6" y1="860.9" x2="39.8" y2="860.9" stroke="#111" stroke-width="1.3"/>
<text x="34.8" y="864.03" font-size="6.8" font-weight="bold" text-anchor="end" fill="#111" stroke="#111" stroke-width="0.12">1.2</text>
<line x1="57.53" y1="931.1" x2="57.53" y2="929.8" stroke="#333" stroke-width="1"/>
<line x1="52.81" y1="929.8" x2="62.24" y2="929.8" stroke="#333" stroke-width="1"/>
<rect x="49.68" y="931.83" width="15.7" height="40.97" fill="#a2afbb" stroke="#1a1a1a" stroke-width="1.45"/>
<line x1="83.83" y1="948" x2="83.83" y2="946.3" stroke="#333" stroke-width="1"/>
<line x1="79.16" y1="946.3" x2="88.49" y2="946.3" stroke="#333" stroke-width="1"/>
<rect x="76.07" y="948.73" width="15.5" height="24.07" fill="#4430a0" stroke="#1a1a1a" stroke-width="1.45"/>
<line x1="127.38" y1="884.1" x2="127.38" y2="879.9" stroke="#333" stroke-width="1"/>
<line x1="122.69" y1="879.9" x2="132.06" y2="879.9" stroke="#333" stroke-width="1"/>
<rect x="119.57" y="884.83" width="15.6" height="87.97" fill="#a2afbb" stroke="#1a1a1a" stroke-width="1.45"/>
<line x1="153.48" y1="925.3" x2="153.48" y2="920.3" stroke="#333" stroke-width="1"/>
<line x1="148.84" y1="920.3" x2="158.11" y2="920.3" stroke="#333" stroke-width="1"/>
<rect x="145.78" y="926.02" width="15.4" height="46.77" fill="#4430a0" stroke="#1a1a1a" stroke-width="1.45"/>
<line x1="39.8" y1="860.3" x2="39.8" y2="973.5" stroke="#111" stroke-width="1.6"/>
<line x1="39.05" y1="972.8" x2="171" y2="972.8" stroke="#0a0a0a" stroke-width="1.5"/>
<path d="M56.9 923.6V917.3H84.1V931.1" fill="none" stroke="#222" stroke-width="1.1"/>
<path d="M66.55 909.35L66.55 912.85M68.07 910.23L65.03 911.98M68.07 911.98L65.03 910.23" stroke="#1a1a1a" stroke-width="1.05" stroke-linecap="round"/>
<path d="M70.5 909.35L70.5 912.85M72.02 910.23L68.98 911.98M72.02 911.98L68.98 910.23" stroke="#1a1a1a" stroke-width="1.05" stroke-linecap="round"/>
<path d="M74.45 909.35L74.45 912.85M75.97 910.23L72.93 911.98M75.97 911.98L72.93 910.23" stroke="#1a1a1a" stroke-width="1.05" stroke-linecap="round"/>
<path d="M127.3 869.9V861.7H153V905.4" fill="none" stroke="#222" stroke-width="1.1"/>
<path d="M138.18 854.45L138.18 857.95M139.69 855.33L136.66 857.08M139.69 857.08L136.66 855.33" stroke="#1a1a1a" stroke-width="1.05" stroke-linecap="round"/>
<path d="M142.12 854.45L142.12 857.95M143.64 855.33L140.61 857.08M143.64 857.08L140.61 855.33" stroke="#1a1a1a" stroke-width="1.05" stroke-linecap="round"/>
<text x="47.4" y="984.8" font-size="7.3" font-weight="normal" text-anchor="start" fill="#111" textLength="17.6" lengthAdjust="spacingAndGlyphs" stroke="#111" stroke-width="0.18">NTsh</text>
<text x="70.6" y="984.8" font-size="7.3" font-weight="normal" text-anchor="start" fill="#111" textLength="29" lengthAdjust="spacingAndGlyphs" stroke="#111" stroke-width="0.18">SOD1sh</text>
<text x="74.9" y="993.6" font-size="7.3" font-weight="normal" text-anchor="start" fill="#111" textLength="17.6" lengthAdjust="spacingAndGlyphs" stroke="#111" stroke-width="0.18">Seq1</text>
<text x="117.3" y="984.8" font-size="7.3" font-weight="normal" text-anchor="start" fill="#111" textLength="17.6" lengthAdjust="spacingAndGlyphs" stroke="#111" stroke-width="0.18">NTsh</text>
<text x="140.3" y="984.8" font-size="7.3" font-weight="normal" text-anchor="start" fill="#111" textLength="29" lengthAdjust="spacingAndGlyphs" stroke="#111" stroke-width="0.18">SOD1sh</text>
<text x="144.6" y="993.6" font-size="7.3" font-weight="normal" text-anchor="start" fill="#111" textLength="17.6" lengthAdjust="spacingAndGlyphs" stroke="#111" stroke-width="0.18">Seq1</text>
<line x1="47.4" y1="1000.5" x2="90.4" y2="1000.5" stroke="#000" stroke-width="1.25"/>
<text x="70.15" y="1009.8" font-size="7.2" font-weight="bold" text-anchor="middle" fill="#111" textLength="36.1" lengthAdjust="spacingAndGlyphs">Normoxia</text>
<line x1="116.6" y1="1000.5" x2="159.8" y2="1000.5" stroke="#000" stroke-width="1.25"/>
<text x="139.05" y="1009.8" font-size="7.2" font-weight="bold" text-anchor="middle" fill="#111" textLength="30.5" lengthAdjust="spacingAndGlyphs">Hypoxia</text>
<text x="255.2" y="826.8" font-size="12.2" font-weight="bold" text-anchor="middle" fill="#111" textLength="45.2" lengthAdjust="spacingAndGlyphs" stroke="#111" stroke-width="0.25">LN-229</text>
<text x="255.35" y="836.9" font-size="7.1" font-weight="normal" text-anchor="middle" fill="#111" textLength="67.8" lengthAdjust="spacingAndGlyphs" stroke="#111" stroke-width="0.06">2 mM glucose, Ø FCS</text>
<line x1="189.8" y1="972.3" x2="194" y2="972.3" stroke="#111" stroke-width="1.3"/>
<text x="188.4" y="975.43" font-size="6.8" font-weight="bold" text-anchor="end" fill="#111" stroke="#111" stroke-width="0.12">0.0</text>
<line x1="189.8" y1="953.63" x2="194" y2="953.63" stroke="#111" stroke-width="1.3"/>
<text x="188.4" y="956.76" font-size="6.8" font-weight="bold" text-anchor="end" fill="#111" stroke="#111" stroke-width="0.12">0.2</text>
<line x1="189.8" y1="934.97" x2="194" y2="934.97" stroke="#111" stroke-width="1.3"/>
<text x="188.4" y="938.09" font-size="6.8" font-weight="bold" text-anchor="end" fill="#111" stroke="#111" stroke-width="0.12">0.4</text>
<line x1="189.8" y1="916.3" x2="194" y2="916.3" stroke="#111" stroke-width="1.3"/>
<text x="188.4" y="919.43" font-size="6.8" font-weight="bold" text-anchor="end" fill="#111" stroke="#111" stroke-width="0.12">0.6</text>
<line x1="189.8" y1="897.63" x2="194" y2="897.63" stroke="#111" stroke-width="1.3"/>
<text x="188.4" y="900.76" font-size="6.8" font-weight="bold" text-anchor="end" fill="#111" stroke="#111" stroke-width="0.12">0.8</text>
<line x1="189.8" y1="878.97" x2="194" y2="878.97" stroke="#111" stroke-width="1.3"/>
<text x="188.4" y="882.09" font-size="6.8" font-weight="bold" text-anchor="end" fill="#111" stroke="#111" stroke-width="0.12">1.0</text>
<line x1="189.8" y1="860.3" x2="194" y2="860.3" stroke="#111" stroke-width="1.3"/>
<text x="188.4" y="863.43" font-size="6.8" font-weight="bold" text-anchor="end" fill="#111" stroke="#111" stroke-width="0.12">1.2</text>
<line x1="211.12" y1="930.2" x2="211.12" y2="929" stroke="#333" stroke-width="1"/>
<line x1="206.35" y1="929" x2="215.9" y2="929" stroke="#333" stroke-width="1"/>
<rect x="203.17" y="930.93" width="15.9" height="41.37" fill="#a2afbb" stroke="#1a1a1a" stroke-width="1.45"/>
<line x1="237.32" y1="941.2" x2="237.32" y2="939.6" stroke="#333" stroke-width="1"/>
<line x1="232.55" y1="939.6" x2="242.1" y2="939.6" stroke="#333" stroke-width="1"/>
<rect x="229.38" y="941.93" width="15.9" height="30.37" fill="#cadde8" stroke="#1a1a1a" stroke-width="1.45"/>
<line x1="280.93" y1="883.2" x2="280.93" y2="879.4" stroke="#333" stroke-width="1"/>
<line x1="276.21" y1="879.4" x2="285.64" y2="879.4" stroke="#333" stroke-width="1"/>
<rect x="273.08" y="883.93" width="15.7" height="88.37" fill="#a2afbb" stroke="#1a1a1a" stroke-width="1.45"/>
<line x1="307.38" y1="930.4" x2="307.38" y2="928.3" stroke="#333" stroke-width="1"/>
<line x1="302.69" y1="928.3" x2="312.06" y2="928.3" stroke="#333" stroke-width="1"/>
<rect x="299.58" y="931.12" width="15.6" height="41.17" fill="#cadde8" stroke="#1a1a1a" stroke-width="1.45"/>
<line x1="194" y1="859.7" x2="194" y2="973" stroke="#111" stroke-width="1.6"/>
<line x1="193.25" y1="972.3" x2="324.2" y2="972.3" stroke="#0a0a0a" stroke-width="1.5"/>
<path d="M209.7 921.3V916.4H237.5V930.2" fill="none" stroke="#222" stroke-width="1.1"/>
<path d="M219.65 908.75L219.65 912.25M221.17 909.62L218.13 911.38M221.17 911.38L218.13 909.62" stroke="#1a1a1a" stroke-width="1.05" stroke-linecap="round"/>
<path d="M223.6 908.75L223.6 912.25M225.12 909.62L222.08 911.38M225.12 911.38L222.08 909.62" stroke="#1a1a1a" stroke-width="1.05" stroke-linecap="round"/>
<path d="M227.55 908.75L227.55 912.25M229.07 909.62L226.03 911.38M229.07 911.38L226.03 909.62" stroke="#1a1a1a" stroke-width="1.05" stroke-linecap="round"/>
<path d="M280.4 874V867.2H307.2V910.5" fill="none" stroke="#222" stroke-width="1.1"/>
<path d="M291.82 859.05L291.82 862.55M293.34 859.92L290.31 861.67M293.34 861.67L290.31 859.92" stroke="#1a1a1a" stroke-width="1.05" stroke-linecap="round"/>
<path d="M295.77 859.05L295.77 862.55M297.29 859.92L294.26 861.67M297.29 861.67L294.26 859.92" stroke="#1a1a1a" stroke-width="1.05" stroke-linecap="round"/>
<text x="203.2" y="984.6" font-size="7.3" font-weight="normal" text-anchor="start" fill="#111" textLength="17.6" lengthAdjust="spacingAndGlyphs" stroke="#111" stroke-width="0.18">NTsh</text>
<text x="226.2" y="984.6" font-size="7.3" font-weight="normal" text-anchor="start" fill="#111" textLength="29" lengthAdjust="spacingAndGlyphs" stroke="#111" stroke-width="0.18">SOD1sh</text>
<text x="230.8" y="993.6" font-size="7.3" font-weight="normal" text-anchor="start" fill="#111" textLength="17.6" lengthAdjust="spacingAndGlyphs" stroke="#111" stroke-width="0.18">Seq3</text>
<text x="273.1" y="984.6" font-size="7.3" font-weight="normal" text-anchor="start" fill="#111" textLength="17.6" lengthAdjust="spacingAndGlyphs" stroke="#111" stroke-width="0.18">NTsh</text>
<text x="296.4" y="984.6" font-size="7.3" font-weight="normal" text-anchor="start" fill="#111" textLength="29" lengthAdjust="spacingAndGlyphs" stroke="#111" stroke-width="0.18">SOD1sh</text>
<text x="301" y="993.6" font-size="7.3" font-weight="normal" text-anchor="start" fill="#111" textLength="17.6" lengthAdjust="spacingAndGlyphs" stroke="#111" stroke-width="0.18">Seq3</text>
<line x1="203.2" y1="1000.4" x2="246.4" y2="1000.4" stroke="#000" stroke-width="1.25"/>
<text x="225.6" y="1009.7" font-size="7.2" font-weight="bold" text-anchor="middle" fill="#111" textLength="35.8" lengthAdjust="spacingAndGlyphs">Normoxia</text>
<line x1="272" y1="1000.4" x2="316.1" y2="1000.4" stroke="#000" stroke-width="1.25"/>
<text x="295.55" y="1009.7" font-size="7.2" font-weight="bold" text-anchor="middle" fill="#111" textLength="30.3" lengthAdjust="spacingAndGlyphs">Hypoxia</text>
<text x="470.3" y="826.8" font-size="12.2" font-weight="bold" text-anchor="middle" fill="#111" textLength="33.2" lengthAdjust="spacingAndGlyphs" stroke="#111" stroke-width="0.25">T98G</text>
<text x="470.95" y="836.9" font-size="7.1" font-weight="normal" text-anchor="middle" fill="#111" textLength="67.8" lengthAdjust="spacingAndGlyphs" stroke="#111" stroke-width="0.06">2 mM glucose, Ø FCS</text>
<text transform="translate(378.2 911.3) rotate(-90)" x="0" y="0" font-size="10.8" font-weight="bold" text-anchor="middle" fill="#000" stroke="#000" stroke-width="0.35" textLength="108.1" lengthAdjust="spacingAndGlyphs">NADPH/NADP ratio</text>
<line x1="394.5" y1="972" x2="398.7" y2="972" stroke="#111" stroke-width="1.3"/>
<text x="393.4" y="975.13" font-size="6.8" font-weight="bold" text-anchor="end" fill="#111" stroke="#111" stroke-width="0.12">0.0</text>
<line x1="394.5" y1="953.28" x2="398.7" y2="953.28" stroke="#111" stroke-width="1.3"/>
<text x="393.4" y="956.41" font-size="6.8" font-weight="bold" text-anchor="end" fill="#111" stroke="#111" stroke-width="0.12">0.2</text>
<line x1="394.5" y1="934.57" x2="398.7" y2="934.57" stroke="#111" stroke-width="1.3"/>
<text x="393.4" y="937.69" font-size="6.8" font-weight="bold" text-anchor="end" fill="#111" stroke="#111" stroke-width="0.12">0.4</text>
<line x1="394.5" y1="915.85" x2="398.7" y2="915.85" stroke="#111" stroke-width="1.3"/>
<text x="393.4" y="918.98" font-size="6.8" font-weight="bold" text-anchor="end" fill="#111" stroke="#111" stroke-width="0.12">0.6</text>
<line x1="394.5" y1="897.13" x2="398.7" y2="897.13" stroke="#111" stroke-width="1.3"/>
<text x="393.4" y="900.26" font-size="6.8" font-weight="bold" text-anchor="end" fill="#111" stroke="#111" stroke-width="0.12">0.8</text>
<line x1="394.5" y1="878.42" x2="398.7" y2="878.42" stroke="#111" stroke-width="1.3"/>
<text x="393.4" y="881.54" font-size="6.8" font-weight="bold" text-anchor="end" fill="#111" stroke="#111" stroke-width="0.12">1.0</text>
<line x1="394.5" y1="859.7" x2="398.7" y2="859.7" stroke="#111" stroke-width="1.3"/>
<text x="393.4" y="862.83" font-size="6.8" font-weight="bold" text-anchor="end" fill="#111" stroke="#111" stroke-width="0.12">1.2</text>
<line x1="416.07" y1="891.8" x2="416.07" y2="889.9" stroke="#333" stroke-width="1"/>
<line x1="411.22" y1="889.9" x2="420.93" y2="889.9" stroke="#333" stroke-width="1"/>
<rect x="407.98" y="892.52" width="16.2" height="79.48" fill="#a2afbb" stroke="#1a1a1a" stroke-width="1.45"/>
<line x1="442.27" y1="891" x2="442.27" y2="887.5" stroke="#333" stroke-width="1"/>
<line x1="437.42" y1="887.5" x2="447.13" y2="887.5" stroke="#333" stroke-width="1"/>
<rect x="434.18" y="891.73" width="16.2" height="80.28" fill="#4430a0" stroke="#1a1a1a" stroke-width="1.45"/>
<line x1="485.92" y1="915.3" x2="485.92" y2="912.6" stroke="#333" stroke-width="1"/>
<line x1="480.99" y1="912.6" x2="490.86" y2="912.6" stroke="#333" stroke-width="1"/>
<rect x="477.68" y="916.02" width="16.5" height="55.98" fill="#a2afbb" stroke="#1a1a1a" stroke-width="1.45"/>
<line x1="511.97" y1="938.8" x2="511.97" y2="935.6" stroke="#333" stroke-width="1"/>
<line x1="507.12" y1="935.6" x2="516.83" y2="935.6" stroke="#333" stroke-width="1"/>
<rect x="503.88" y="939.52" width="16.2" height="32.48" fill="#4430a0" stroke="#1a1a1a" stroke-width="1.45"/>
<line x1="398.7" y1="859.1" x2="398.7" y2="972.7" stroke="#111" stroke-width="1.6"/>
<line x1="397.95" y1="972" x2="529.5" y2="972" stroke="#0a0a0a" stroke-width="1.5"/>
<path d="M416.2 881.6V874H442.6V881.6" fill="none" stroke="#222" stroke-width="1.1"/>
<text x="429.4" y="869.4" font-size="6.6" font-weight="normal" text-anchor="middle" fill="#222" stroke="#111" stroke-width="0.18">ns</text>
<path d="M485.8 901.8V896.4H511.8V928.8" fill="none" stroke="#222" stroke-width="1.1"/>
<path d="M496.82 888.45L496.82 891.95M498.34 889.33L495.31 891.08M498.34 891.08L495.31 889.33" stroke="#1a1a1a" stroke-width="1.05" stroke-linecap="round"/>
<path d="M500.78 888.45L500.78 891.95M502.29 889.33L499.26 891.08M502.29 891.08L499.26 889.33" stroke="#1a1a1a" stroke-width="1.05" stroke-linecap="round"/>
<text x="404.8" y="984.6" font-size="7.3" font-weight="normal" text-anchor="start" fill="#111" textLength="17.6" lengthAdjust="spacingAndGlyphs" stroke="#111" stroke-width="0.18">NTsh</text>
<text x="427.8" y="984.6" font-size="7.3" font-weight="normal" text-anchor="start" fill="#111" textLength="29" lengthAdjust="spacingAndGlyphs" stroke="#111" stroke-width="0.18">SOD1sh</text>
<text x="431.8" y="993.6" font-size="7.3" font-weight="normal" text-anchor="start" fill="#111" textLength="17.6" lengthAdjust="spacingAndGlyphs" stroke="#111" stroke-width="0.18">Seq1</text>
<text x="474.5" y="984.6" font-size="7.3" font-weight="normal" text-anchor="start" fill="#111" textLength="17.6" lengthAdjust="spacingAndGlyphs" stroke="#111" stroke-width="0.18">NTsh</text>
<text x="497.5" y="984.6" font-size="7.3" font-weight="normal" text-anchor="start" fill="#111" textLength="29" lengthAdjust="spacingAndGlyphs" stroke="#111" stroke-width="0.18">SOD1sh</text>
<text x="501.5" y="993.6" font-size="7.3" font-weight="normal" text-anchor="start" fill="#111" textLength="17.6" lengthAdjust="spacingAndGlyphs" stroke="#111" stroke-width="0.18">Seq1</text>
<line x1="404.3" y1="1000.4" x2="447.5" y2="1000.4" stroke="#000" stroke-width="1.25"/>
<text x="427.25" y="1009.2" font-size="7.2" font-weight="bold" text-anchor="middle" fill="#111" textLength="35.7" lengthAdjust="spacingAndGlyphs">Normoxia</text>
<line x1="473.7" y1="1000.4" x2="517.4" y2="1000.4" stroke="#000" stroke-width="1.25"/>
<text x="496.65" y="1009.2" font-size="7.2" font-weight="bold" text-anchor="middle" fill="#111" textLength="30.3" lengthAdjust="spacingAndGlyphs">Hypoxia</text>
<text x="614.8" y="826.8" font-size="12.2" font-weight="bold" text-anchor="middle" fill="#111" textLength="33" lengthAdjust="spacingAndGlyphs" stroke="#111" stroke-width="0.25">T98G</text>
<text x="614.5" y="836.9" font-size="7.1" font-weight="normal" text-anchor="middle" fill="#111" textLength="68.3" lengthAdjust="spacingAndGlyphs" stroke="#111" stroke-width="0.06">2 mM glucose, Ø FCS</text>
<line x1="548.7" y1="969.9" x2="552.9" y2="969.9" stroke="#111" stroke-width="1.3"/>
<text x="547.4" y="973.03" font-size="6.8" font-weight="bold" text-anchor="end" fill="#111" stroke="#111" stroke-width="0.12">0.0</text>
<line x1="548.7" y1="951.22" x2="552.9" y2="951.22" stroke="#111" stroke-width="1.3"/>
<text x="547.4" y="954.34" font-size="6.8" font-weight="bold" text-anchor="end" fill="#111" stroke="#111" stroke-width="0.12">0.2</text>
<line x1="548.7" y1="932.53" x2="552.9" y2="932.53" stroke="#111" stroke-width="1.3"/>
<text x="547.4" y="935.66" font-size="6.8" font-weight="bold" text-anchor="end" fill="#111" stroke="#111" stroke-width="0.12">0.4</text>
<line x1="548.7" y1="913.85" x2="552.9" y2="913.85" stroke="#111" stroke-width="1.3"/>
<text x="547.4" y="916.98" font-size="6.8" font-weight="bold" text-anchor="end" fill="#111" stroke="#111" stroke-width="0.12">0.6</text>
<line x1="548.7" y1="895.17" x2="552.9" y2="895.17" stroke="#111" stroke-width="1.3"/>
<text x="547.4" y="898.29" font-size="6.8" font-weight="bold" text-anchor="end" fill="#111" stroke="#111" stroke-width="0.12">0.8</text>
<line x1="548.7" y1="876.48" x2="552.9" y2="876.48" stroke="#111" stroke-width="1.3"/>
<text x="547.4" y="879.61" font-size="6.8" font-weight="bold" text-anchor="end" fill="#111" stroke="#111" stroke-width="0.12">1.0</text>
<line x1="548.7" y1="857.8" x2="552.9" y2="857.8" stroke="#111" stroke-width="1.3"/>
<text x="547.4" y="860.93" font-size="6.8" font-weight="bold" text-anchor="end" fill="#111" stroke="#111" stroke-width="0.12">1.2</text>
<line x1="570.58" y1="890.2" x2="570.58" y2="888.3" stroke="#333" stroke-width="1"/>
<line x1="565.78" y1="888.3" x2="575.37" y2="888.3" stroke="#333" stroke-width="1"/>
<rect x="562.58" y="890.93" width="16" height="78.97" fill="#a2afbb" stroke="#1a1a1a" stroke-width="1.45"/>
<line x1="596.38" y1="872.4" x2="596.38" y2="866.2" stroke="#333" stroke-width="1"/>
<line x1="591.52" y1="866.2" x2="601.23" y2="866.2" stroke="#333" stroke-width="1"/>
<rect x="588.27" y="873.12" width="16.2" height="96.78" fill="#cadde8" stroke="#1a1a1a" stroke-width="1.45"/>
<line x1="640.08" y1="914" x2="640.08" y2="910.7" stroke="#333" stroke-width="1"/>
<line x1="635.22" y1="910.7" x2="644.93" y2="910.7" stroke="#333" stroke-width="1"/>
<rect x="631.98" y="914.73" width="16.2" height="55.17" fill="#a2afbb" stroke="#1a1a1a" stroke-width="1.45"/>
<line x1="666.12" y1="960.6" x2="666.12" y2="959.8" stroke="#333" stroke-width="1"/>
<line x1="661.19" y1="959.8" x2="671.06" y2="959.8" stroke="#333" stroke-width="1"/>
<rect x="657.88" y="961.33" width="16.5" height="8.57" fill="#cadde8" stroke="#1a1a1a" stroke-width="1.45"/>
<line x1="552.9" y1="857.2" x2="552.9" y2="970.6" stroke="#111" stroke-width="1.6"/>
<line x1="552.15" y1="969.9" x2="681.5" y2="969.9" stroke="#0a0a0a" stroke-width="1.5"/>
<path d="M569.7 871.6V852.4H596.4V859.1" fill="none" stroke="#222" stroke-width="1.1"/>
<text x="583.05" y="847.5" font-size="6.6" font-weight="normal" text-anchor="middle" fill="#222" stroke="#111" stroke-width="0.18">ns</text>
<path d="M639.6 900.5V895.1H666.1V951" fill="none" stroke="#222" stroke-width="1.1"/>
<path d="M652.85 887.15L652.85 890.65M654.37 888.02L651.33 889.77M654.37 889.77L651.33 888.02" stroke="#1a1a1a" stroke-width="1.05" stroke-linecap="round"/>
<text x="558.9" y="984.1" font-size="7.3" font-weight="normal" text-anchor="start" fill="#111" textLength="17.6" lengthAdjust="spacingAndGlyphs" stroke="#111" stroke-width="0.18">NTsh</text>
<text x="581.6" y="984.1" font-size="7.3" font-weight="normal" text-anchor="start" fill="#111" textLength="29" lengthAdjust="spacingAndGlyphs" stroke="#111" stroke-width="0.18">SOD1sh</text>
<text x="586.4" y="993" font-size="7.3" font-weight="normal" text-anchor="start" fill="#111" textLength="17.6" lengthAdjust="spacingAndGlyphs" stroke="#111" stroke-width="0.18">Seq3</text>
<text x="628.3" y="984.1" font-size="7.3" font-weight="normal" text-anchor="start" fill="#111" textLength="17.6" lengthAdjust="spacingAndGlyphs" stroke="#111" stroke-width="0.18">NTsh</text>
<text x="651.2" y="984.1" font-size="7.3" font-weight="normal" text-anchor="start" fill="#111" textLength="29" lengthAdjust="spacingAndGlyphs" stroke="#111" stroke-width="0.18">SOD1sh</text>
<text x="656" y="993" font-size="7.3" font-weight="normal" text-anchor="start" fill="#111" textLength="17.6" lengthAdjust="spacingAndGlyphs" stroke="#111" stroke-width="0.18">Seq3</text>
<line x1="558.9" y1="999.8" x2="602.6" y2="999.8" stroke="#000" stroke-width="1.25"/>
<text x="581.55" y="1008.9" font-size="7.2" font-weight="bold" text-anchor="middle" fill="#111" textLength="35.7" lengthAdjust="spacingAndGlyphs">Normoxia</text>
<line x1="627.5" y1="999.8" x2="671.5" y2="999.8" stroke="#000" stroke-width="1.25"/>
<text x="650.95" y="1008.9" font-size="7.2" font-weight="bold" text-anchor="middle" fill="#111" textLength="29.7" lengthAdjust="spacingAndGlyphs">Hypoxia</text>
<path d="M1.8 18.9L7.5 1.6H9.1L14.9 18.9M4.4 12.4H12.2" fill="none" stroke="#000" stroke-width="1.8"/>
<path d="M3.8 204.1V222.4M3 204.9H8.4C11.8 204.9 13.1 206.4 13.1 208.7C13.1 211.2 11.3 212.9 8.3 212.9H3.8M8.3 212.9C11.9 212.9 13.9 214.7 13.9 217.3C13.9 220.2 11.8 221.7 8.3 221.7H3" fill="none" stroke="#000" stroke-width="1.8"/>
<path d="M15.9 406.6C14.8 406 13.4 405.7 11.8 405.7C6.8 405.7 3.8 409.4 3.8 414.8C3.8 420.3 7 423.4 11.6 423.4C13.3 423.4 14.8 423 15.9 422.5" fill="none" stroke="#000" stroke-width="1.8"/>
<path d="M2.1 609.4V626.5H7.2C12.6 626.5 15.6 623 15.6 617.8C15.6 612.6 12.6 609.4 7.3 609.4H1.2" fill="none" stroke="#000" stroke-width="1.8"/>
<path d="M13.4 829.5H4.9V846H13.9M4.9 837.5H12.9" fill="none" stroke="#000" stroke-width="1.8"/></svg>
</body></html>
